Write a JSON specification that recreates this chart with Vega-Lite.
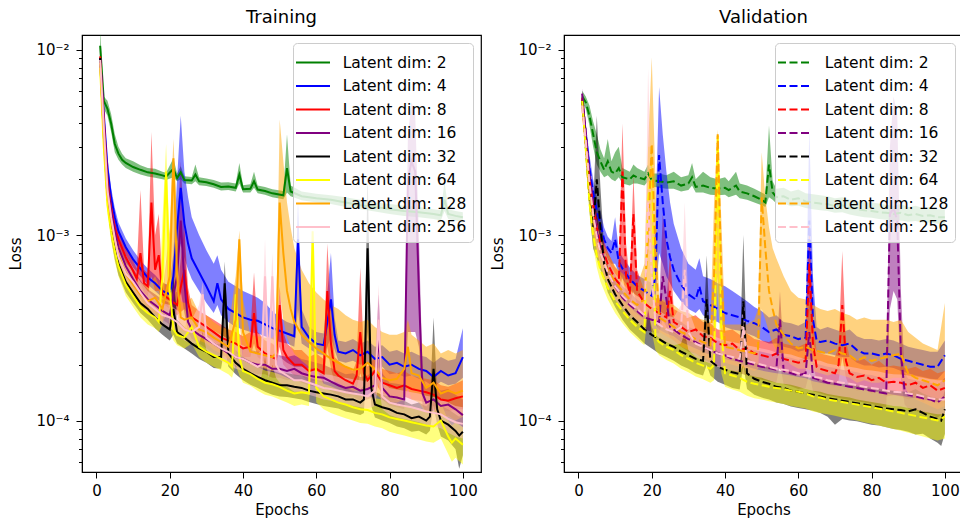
{
"$schema":"https://vega.github.io/schema/vega-lite/v6.json",
"background":"white",
"padding":{"left":8,"top":8,"right":0,"bottom":0},
"spacing":8,
"config":{
 "font":"DejaVu Sans",
 "view":{"stroke":"black","strokeWidth":1.2},
 "axis":{"labelFont":"DejaVu Sans","labelFontSize":15,"labelColor":"black","titleFont":"DejaVu Sans","titleFontSize":15,"titleFontWeight":"normal","titleColor":"black","tickColor":"black","domainColor":"black","grid":false,"labelOverlap":false,"labelBound":false,"labelFlush":false},
 "title":{"font":"DejaVu Sans","fontSize":18,"fontWeight":"normal","color":"black","offset":8},
 "legend":{"orient":"top-right","offset":8,"padding":6,"rowPadding":1.5,"symbolType":"M-1.32,0H1.4","symbolSize":625,"symbolStrokeWidth":2,"labelFont":"DejaVu Sans","labelFontSize":15.5,"labelColor":"black","labelOffset":16.7,"labelLimit":0,"fillColor":"rgba(255,255,255,0.8)","strokeColor":"#cccccc","cornerRadius":4}
},
"datasets":{
"train":[
{"d":2,"e":1,"y":1.05e-2,"l":9.0e-3,"h":1.3e-2},
{"d":2,"e":2,"y":5.3e-3,"l":4.8e-3,"h":5.6e-3},
{"d":2,"e":3,"y":4.8e-3,"l":4.4e-3,"h":5.3e-3},
{"d":2,"e":4,"y":4.0e-3,"l":3.6e-3,"h":4.5e-3},
{"d":2,"e":5,"y":3.1e-3,"l":2.8e-3,"h":3.5e-3},
{"d":2,"e":6,"y":2.75e-3,"l":2.55e-3,"h":3.0e-3},
{"d":2,"e":7,"y":2.55e-3,"l":2.4e-3,"h":2.75e-3},
{"d":2,"e":8,"y":2.45e-3,"l":2.3e-3,"h":2.6e-3},
{"d":2,"e":10,"y":2.33e-3,"l":2.2e-3,"h":2.5e-3},
{"d":2,"e":12,"y":2.25e-3,"l":2.12e-3,"h":2.38e-3},
{"d":2,"e":14,"y":2.18e-3,"l":2.07e-3,"h":2.3e-3},
{"d":2,"e":16,"y":2.15e-3,"l":2.04e-3,"h":2.28e-3},
{"d":2,"e":18,"y":2.1e-3,"l":2.0e-3,"h":2.2e-3},
{"d":2,"e":19,"y":2.07e-3,"l":1.98e-3,"h":2.17e-3},
{"d":2,"e":21,"y":2.28e-3,"l":2.05e-3,"h":2.6e-3},
{"d":2,"e":22,"y":2.03e-3,"l":1.95e-3,"h":2.15e-3},
{"d":2,"e":23,"y":2.18e-3,"l":2.0e-3,"h":2.35e-3},
{"d":2,"e":24,"y":1.98e-3,"l":1.9e-3,"h":2.08e-3},
{"d":2,"e":26,"y":1.97e-3,"l":1.88e-3,"h":2.06e-3},
{"d":2,"e":27,"y":2.12e-3,"l":1.95e-3,"h":2.4e-3},
{"d":2,"e":28,"y":1.95e-3,"l":1.86e-3,"h":2.05e-3},
{"d":2,"e":30,"y":1.93e-3,"l":1.84e-3,"h":2.02e-3},
{"d":2,"e":32,"y":1.88e-3,"l":1.8e-3,"h":1.98e-3},
{"d":2,"e":34,"y":1.82e-3,"l":1.74e-3,"h":1.92e-3},
{"d":2,"e":36,"y":1.83e-3,"l":1.75e-3,"h":1.93e-3},
{"d":2,"e":38,"y":1.8e-3,"l":1.72e-3,"h":1.9e-3},
{"d":2,"e":39,"y":2.12e-3,"l":1.9e-3,"h":2.45e-3},
{"d":2,"e":40,"y":1.77e-3,"l":1.7e-3,"h":1.86e-3},
{"d":2,"e":42,"y":1.78e-3,"l":1.7e-3,"h":1.88e-3},
{"d":2,"e":43,"y":1.95e-3,"l":1.8e-3,"h":2.2e-3},
{"d":2,"e":44,"y":1.76e-3,"l":1.68e-3,"h":1.85e-3},
{"d":2,"e":46,"y":1.73e-3,"l":1.65e-3,"h":1.82e-3},
{"d":2,"e":48,"y":1.68e-3,"l":1.6e-3,"h":1.77e-3},
{"d":2,"e":51,"y":1.64e-3,"l":1.56e-3,"h":1.73e-3},
{"d":2,"e":52,"y":2.3e-3,"l":1.7e-3,"h":3.5e-3},
{"d":2,"e":53,"y":1.72e-3,"l":1.62e-3,"h":1.85e-3},
{"d":2,"e":56,"y":1.62e-3,"l":1.54e-3,"h":1.72e-3},
{"d":2,"e":60,"y":1.58e-3,"l":1.5e-3,"h":1.67e-3},
{"d":2,"e":64,"y":1.55e-3,"l":1.47e-3,"h":1.64e-3},
{"d":2,"e":68,"y":1.5e-3,"l":1.42e-3,"h":1.6e-3},
{"d":2,"e":72,"y":1.45e-3,"l":1.38e-3,"h":1.55e-3},
{"d":2,"e":76,"y":1.42e-3,"l":1.34e-3,"h":1.5e-3},
{"d":2,"e":80,"y":1.38e-3,"l":1.3e-3,"h":1.47e-3},
{"d":2,"e":84,"y":1.35e-3,"l":1.27e-3,"h":1.44e-3},
{"d":2,"e":88,"y":1.33e-3,"l":1.25e-3,"h":1.42e-3},
{"d":2,"e":92,"y":1.3e-3,"l":1.22e-3,"h":1.38e-3},
{"d":2,"e":94,"y":1.28e-3,"l":1.2e-3,"h":1.36e-3},
{"d":2,"e":95,"y":1.55e-3,"l":1.35e-3,"h":1.95e-3},
{"d":2,"e":96,"y":1.3e-3,"l":1.22e-3,"h":1.38e-3},
{"d":2,"e":98,"y":1.27e-3,"l":1.2e-3,"h":1.35e-3},
{"d":2,"e":100,"y":1.25e-3,"l":1.18e-3,"h":1.33e-3},
{"d":4,"e":1,"y":9.0e-3,"l":8.5e-3,"h":9.5e-3},
{"d":4,"e":2,"y":4.5e-3,"l":4.0e-3,"h":5.0e-3},
{"d":4,"e":3,"y":2.3e-3,"l":2.1e-3,"h":2.6e-3},
{"d":4,"e":4,"y":1.6e-3,"l":1.45e-3,"h":1.8e-3},
{"d":4,"e":5,"y":1.25e-3,"l":1.12e-3,"h":1.4e-3},
{"d":4,"e":6,"y":1.05e-3,"l":9.5e-4,"h":1.17e-3},
{"d":4,"e":8,"y":8.6e-4,"l":7.8e-4,"h":9.6e-4},
{"d":4,"e":10,"y":7.4e-4,"l":6.7e-4,"h":8.3e-4},
{"d":4,"e":12,"y":6.6e-4,"l":6.0e-4,"h":7.3e-4},
{"d":4,"e":14,"y":5.9e-4,"l":5.4e-4,"h":6.6e-4},
{"d":4,"e":16,"y":5.5e-4,"l":5.0e-4,"h":6.1e-4},
{"d":4,"e":18,"y":5.0e-4,"l":4.6e-4,"h":5.5e-4},
{"d":4,"e":20,"y":4.8e-4,"l":4.4e-4,"h":5.4e-4},
{"d":4,"e":21,"y":6.0e-4,"l":5.0e-4,"h":8.0e-4},
{"d":4,"e":22,"y":1.1e-3,"l":7.0e-4,"h":2.0e-3},
{"d":4,"e":23,"y":1.8e-3,"l":9.0e-4,"h":4.4e-3},
{"d":4,"e":24,"y":1.15e-3,"l":7.5e-4,"h":2.2e-3},
{"d":4,"e":25,"y":9.0e-4,"l":6.5e-4,"h":1.6e-3},
{"d":4,"e":26,"y":7.5e-4,"l":5.8e-4,"h":1.25e-3},
{"d":4,"e":28,"y":6.3e-4,"l":5.0e-4,"h":1.0e-3},
{"d":4,"e":30,"y":5.3e-4,"l":4.3e-4,"h":8.3e-4},
{"d":4,"e":32,"y":4.4e-4,"l":3.8e-4,"h":7.0e-4},
{"d":4,"e":33,"y":5.5e-4,"l":4.2e-4,"h":7.8e-4},
{"d":4,"e":34,"y":4.5e-4,"l":3.7e-4,"h":6.5e-4},
{"d":4,"e":36,"y":4.0e-4,"l":3.4e-4,"h":5.6e-4},
{"d":4,"e":38,"y":3.8e-4,"l":3.2e-4,"h":5.3e-4},
{"d":4,"e":40,"y":3.6e-4,"l":3.1e-4,"h":5.0e-4},
{"d":4,"e":42,"y":3.5e-4,"l":3.0e-4,"h":4.8e-4},
{"d":4,"e":44,"y":3.45e-4,"l":2.95e-4,"h":4.6e-4},
{"d":4,"e":46,"y":3.3e-4,"l":2.85e-4,"h":4.3e-4},
{"d":4,"e":48,"y":3.15e-4,"l":2.75e-4,"h":3.9e-4},
{"d":4,"e":50,"y":3.05e-4,"l":2.65e-4,"h":3.6e-4},
{"d":4,"e":52,"y":2.95e-4,"l":2.6e-4,"h":3.4e-4},
{"d":4,"e":54,"y":2.85e-4,"l":2.5e-4,"h":3.3e-4},
{"d":4,"e":55,"y":9.5e-4,"l":4.0e-4,"h":1.55e-3},
{"d":4,"e":56,"y":3.2e-4,"l":2.6e-4,"h":4.0e-4},
{"d":4,"e":58,"y":2.8e-4,"l":2.45e-4,"h":3.2e-4},
{"d":4,"e":60,"y":2.6e-4,"l":2.3e-4,"h":3.0e-4},
{"d":4,"e":62,"y":2.55e-4,"l":2.25e-4,"h":2.95e-4},
{"d":4,"e":64,"y":4.5e-4,"l":2.8e-4,"h":8.0e-4},
{"d":4,"e":65,"y":2.9e-4,"l":2.4e-4,"h":3.6e-4},
{"d":4,"e":66,"y":2.35e-4,"l":2.1e-4,"h":2.7e-4},
{"d":4,"e":68,"y":2.3e-4,"l":2.05e-4,"h":2.65e-4},
{"d":4,"e":70,"y":2.4e-4,"l":2.1e-4,"h":2.75e-4},
{"d":4,"e":72,"y":2.25e-4,"l":2.0e-4,"h":2.6e-4},
{"d":4,"e":74,"y":2.35e-4,"l":2.05e-4,"h":2.7e-4},
{"d":4,"e":76,"y":2.15e-4,"l":1.9e-4,"h":2.5e-4},
{"d":4,"e":78,"y":2.2e-4,"l":1.95e-4,"h":2.55e-4},
{"d":4,"e":80,"y":2.0e-4,"l":1.78e-4,"h":2.35e-4},
{"d":4,"e":82,"y":2.05e-4,"l":1.8e-4,"h":2.4e-4},
{"d":4,"e":84,"y":1.95e-4,"l":1.72e-4,"h":2.3e-4},
{"d":4,"e":86,"y":2.0e-4,"l":1.75e-4,"h":2.35e-4},
{"d":4,"e":88,"y":1.9e-4,"l":1.68e-4,"h":2.25e-4},
{"d":4,"e":90,"y":1.85e-4,"l":1.62e-4,"h":2.2e-4},
{"d":4,"e":92,"y":1.72e-4,"l":1.52e-4,"h":2.05e-4},
{"d":4,"e":94,"y":1.85e-4,"l":1.62e-4,"h":2.2e-4},
{"d":4,"e":96,"y":1.75e-4,"l":1.55e-4,"h":2.1e-4},
{"d":4,"e":98,"y":1.8e-4,"l":1.58e-4,"h":2.15e-4},
{"d":4,"e":100,"y":2.2e-4,"l":1.7e-4,"h":3.15e-4},
{"d":8,"e":1,"y":9.2e-3,"l":8.7e-3,"h":9.7e-3},
{"d":8,"e":2,"y":4.2e-3,"l":3.8e-3,"h":4.7e-3},
{"d":8,"e":3,"y":2.0e-3,"l":1.8e-3,"h":2.3e-3},
{"d":8,"e":4,"y":1.4e-3,"l":1.25e-3,"h":1.6e-3},
{"d":8,"e":5,"y":1.1e-3,"l":9.8e-4,"h":1.25e-3},
{"d":8,"e":6,"y":9.5e-4,"l":8.5e-4,"h":1.07e-3},
{"d":8,"e":8,"y":7.6e-4,"l":6.8e-4,"h":8.6e-4},
{"d":8,"e":10,"y":6.4e-4,"l":5.7e-4,"h":7.3e-4},
{"d":8,"e":11,"y":5.8e-4,"l":5.2e-4,"h":6.6e-4},
{"d":8,"e":12,"y":8.0e-4,"l":5.5e-4,"h":1.75e-3},
{"d":8,"e":13,"y":5.5e-4,"l":4.9e-4,"h":6.5e-4},
{"d":8,"e":14,"y":5.3e-4,"l":4.7e-4,"h":6.2e-4},
{"d":8,"e":15,"y":1.5e-3,"l":6.0e-4,"h":3.6e-3},
{"d":8,"e":16,"y":6.5e-4,"l":5.0e-4,"h":1.0e-3},
{"d":8,"e":17,"y":7.8e-4,"l":5.0e-4,"h":1.3e-3},
{"d":8,"e":18,"y":4.8e-4,"l":4.3e-4,"h":5.6e-4},
{"d":8,"e":20,"y":4.5e-4,"l":4.0e-4,"h":5.2e-4},
{"d":8,"e":22,"y":4.2e-4,"l":3.7e-4,"h":4.9e-4},
{"d":8,"e":24,"y":6.5e-4,"l":4.0e-4,"h":1.1e-3},
{"d":8,"e":25,"y":4.3e-4,"l":3.7e-4,"h":5.2e-4},
{"d":8,"e":26,"y":3.6e-4,"l":3.2e-4,"h":4.2e-4},
{"d":8,"e":28,"y":3.4e-4,"l":3.0e-4,"h":3.9e-4},
{"d":8,"e":30,"y":3.2e-4,"l":2.85e-4,"h":3.7e-4},
{"d":8,"e":32,"y":3.0e-4,"l":2.7e-4,"h":3.5e-4},
{"d":8,"e":34,"y":2.8e-4,"l":2.5e-4,"h":3.3e-4},
{"d":8,"e":36,"y":2.7e-4,"l":2.4e-4,"h":3.1e-4},
{"d":8,"e":38,"y":2.6e-4,"l":2.3e-4,"h":3.0e-4},
{"d":8,"e":40,"y":2.45e-4,"l":2.2e-4,"h":2.85e-4},
{"d":8,"e":42,"y":2.5e-4,"l":2.2e-4,"h":3.0e-4},
{"d":8,"e":43,"y":3.8e-4,"l":2.6e-4,"h":6.3e-4},
{"d":8,"e":44,"y":2.5e-4,"l":2.2e-4,"h":3.0e-4},
{"d":8,"e":46,"y":2.3e-4,"l":2.05e-4,"h":2.7e-4},
{"d":8,"e":48,"y":2.2e-4,"l":1.95e-4,"h":2.6e-4},
{"d":8,"e":49,"y":2.15e-4,"l":1.9e-4,"h":2.5e-4},
{"d":8,"e":50,"y":4.2e-4,"l":2.5e-4,"h":5.3e-4},
{"d":8,"e":51,"y":2.4e-4,"l":2.0e-4,"h":3.0e-4},
{"d":8,"e":52,"y":2.2e-4,"l":1.9e-4,"h":2.6e-4},
{"d":8,"e":54,"y":2.0e-4,"l":1.75e-4,"h":2.4e-4},
{"d":8,"e":56,"y":2.0e-4,"l":1.75e-4,"h":2.4e-4},
{"d":8,"e":58,"y":1.85e-4,"l":1.6e-4,"h":2.2e-4},
{"d":8,"e":60,"y":1.9e-4,"l":1.65e-4,"h":2.3e-4},
{"d":8,"e":62,"y":1.8e-4,"l":1.58e-4,"h":2.15e-4},
{"d":8,"e":63,"y":5.0e-4,"l":2.5e-4,"h":9.0e-4},
{"d":8,"e":64,"y":2.6e-4,"l":1.9e-4,"h":4.0e-4},
{"d":8,"e":65,"y":1.85e-4,"l":1.6e-4,"h":2.2e-4},
{"d":8,"e":66,"y":1.75e-4,"l":1.52e-4,"h":2.1e-4},
{"d":8,"e":68,"y":1.65e-4,"l":1.45e-4,"h":1.95e-4},
{"d":8,"e":70,"y":1.58e-4,"l":1.4e-4,"h":1.85e-4},
{"d":8,"e":71,"y":1.75e-4,"l":1.5e-4,"h":2.1e-4},
{"d":8,"e":72,"y":3.0e-4,"l":1.8e-4,"h":6.7e-4},
{"d":8,"e":73,"y":1.8e-4,"l":1.55e-4,"h":2.2e-4},
{"d":8,"e":74,"y":1.65e-4,"l":1.45e-4,"h":1.95e-4},
{"d":8,"e":76,"y":1.85e-4,"l":1.6e-4,"h":2.2e-4},
{"d":8,"e":78,"y":1.6e-4,"l":1.4e-4,"h":1.9e-4},
{"d":8,"e":80,"y":1.55e-4,"l":1.36e-4,"h":1.85e-4},
{"d":8,"e":82,"y":1.5e-4,"l":1.32e-4,"h":1.8e-4},
{"d":8,"e":84,"y":1.55e-4,"l":1.35e-4,"h":1.85e-4},
{"d":8,"e":86,"y":1.48e-4,"l":1.3e-4,"h":1.75e-4},
{"d":8,"e":88,"y":1.45e-4,"l":1.28e-4,"h":1.7e-4},
{"d":8,"e":90,"y":1.42e-4,"l":1.25e-4,"h":1.68e-4},
{"d":8,"e":92,"y":1.38e-4,"l":1.2e-4,"h":1.65e-4},
{"d":8,"e":94,"y":1.3e-4,"l":1.15e-4,"h":1.55e-4},
{"d":8,"e":96,"y":1.28e-4,"l":1.12e-4,"h":1.52e-4},
{"d":8,"e":98,"y":1.32e-4,"l":1.15e-4,"h":1.58e-4},
{"d":8,"e":100,"y":1.35e-4,"l":1.15e-4,"h":1.65e-4},
{"d":16,"e":1,"y":9.0e-3,"l":8.5e-3,"h":9.5e-3},
{"d":16,"e":2,"y":4.0e-3,"l":3.6e-3,"h":4.4e-3},
{"d":16,"e":3,"y":1.9e-3,"l":1.7e-3,"h":2.2e-3},
{"d":16,"e":4,"y":1.35e-3,"l":1.2e-3,"h":1.55e-3},
{"d":16,"e":5,"y":1.05e-3,"l":9.3e-4,"h":1.2e-3},
{"d":16,"e":6,"y":8.6e-4,"l":7.7e-4,"h":9.7e-4},
{"d":16,"e":8,"y":6.8e-4,"l":6.1e-4,"h":7.7e-4},
{"d":16,"e":10,"y":5.8e-4,"l":5.2e-4,"h":6.6e-4},
{"d":16,"e":12,"y":5.0e-4,"l":4.5e-4,"h":5.7e-4},
{"d":16,"e":14,"y":4.5e-4,"l":4.0e-4,"h":5.1e-4},
{"d":16,"e":16,"y":4.2e-4,"l":3.7e-4,"h":4.8e-4},
{"d":16,"e":18,"y":3.9e-4,"l":3.5e-4,"h":4.5e-4},
{"d":16,"e":20,"y":3.7e-4,"l":3.3e-4,"h":4.3e-4},
{"d":16,"e":22,"y":6.0e-4,"l":4.0e-4,"h":1.0e-3},
{"d":16,"e":23,"y":1.2e-3,"l":5.0e-4,"h":2.5e-3},
{"d":16,"e":24,"y":5.5e-4,"l":3.8e-4,"h":1.0e-3},
{"d":16,"e":25,"y":3.4e-4,"l":3.0e-4,"h":4.0e-4},
{"d":16,"e":26,"y":3.1e-4,"l":2.75e-4,"h":3.6e-4},
{"d":16,"e":28,"y":2.9e-4,"l":2.6e-4,"h":3.4e-4},
{"d":16,"e":30,"y":2.75e-4,"l":2.45e-4,"h":3.2e-4},
{"d":16,"e":32,"y":2.6e-4,"l":2.3e-4,"h":3.0e-4},
{"d":16,"e":34,"y":2.45e-4,"l":2.2e-4,"h":2.85e-4},
{"d":16,"e":36,"y":2.3e-4,"l":2.05e-4,"h":2.7e-4},
{"d":16,"e":38,"y":2.2e-4,"l":1.95e-4,"h":2.55e-4},
{"d":16,"e":40,"y":2.15e-4,"l":1.9e-4,"h":2.5e-4},
{"d":16,"e":42,"y":2.05e-4,"l":1.82e-4,"h":2.4e-4},
{"d":16,"e":44,"y":2.0e-4,"l":1.78e-4,"h":2.35e-4},
{"d":16,"e":46,"y":2.0e-4,"l":1.78e-4,"h":2.35e-4},
{"d":16,"e":48,"y":1.9e-4,"l":1.7e-4,"h":2.25e-4},
{"d":16,"e":50,"y":1.9e-4,"l":1.7e-4,"h":2.25e-4},
{"d":16,"e":52,"y":1.85e-4,"l":1.65e-4,"h":2.2e-4},
{"d":16,"e":54,"y":1.9e-4,"l":1.68e-4,"h":2.25e-4},
{"d":16,"e":56,"y":1.8e-4,"l":1.6e-4,"h":2.15e-4},
{"d":16,"e":58,"y":1.75e-4,"l":1.55e-4,"h":2.1e-4},
{"d":16,"e":60,"y":1.72e-4,"l":1.52e-4,"h":2.05e-4},
{"d":16,"e":62,"y":1.7e-4,"l":1.5e-4,"h":2.0e-4},
{"d":16,"e":64,"y":1.62e-4,"l":1.44e-4,"h":1.92e-4},
{"d":16,"e":66,"y":1.55e-4,"l":1.38e-4,"h":1.85e-4},
{"d":16,"e":68,"y":1.5e-4,"l":1.33e-4,"h":1.78e-4},
{"d":16,"e":70,"y":1.52e-4,"l":1.35e-4,"h":1.8e-4},
{"d":16,"e":72,"y":1.45e-4,"l":1.28e-4,"h":1.72e-4},
{"d":16,"e":74,"y":1.48e-4,"l":1.3e-4,"h":1.75e-4},
{"d":16,"e":76,"y":1.55e-4,"l":1.35e-4,"h":1.9e-4},
{"d":16,"e":77,"y":2.8e-4,"l":1.6e-4,"h":4.8e-4},
{"d":16,"e":78,"y":1.5e-4,"l":1.3e-4,"h":1.8e-4},
{"d":16,"e":80,"y":1.35e-4,"l":1.2e-4,"h":1.6e-4},
{"d":16,"e":82,"y":1.33e-4,"l":1.18e-4,"h":1.58e-4},
{"d":16,"e":84,"y":1.3e-4,"l":1.15e-4,"h":1.55e-4},
{"d":16,"e":85,"y":2.0e-3,"l":3.0e-4,"h":3.5e-3},
{"d":16,"e":86,"y":2.5e-3,"l":3.0e-4,"h":5.2e-3},
{"d":16,"e":87,"y":2.2e-3,"l":3.0e-4,"h":4.5e-3},
{"d":16,"e":88,"y":5.0e-4,"l":2.5e-4,"h":1.0e-3},
{"d":16,"e":89,"y":1.4e-4,"l":1.2e-4,"h":1.8e-4},
{"d":16,"e":90,"y":1.25e-4,"l":1.1e-4,"h":1.5e-4},
{"d":16,"e":92,"y":1.3e-4,"l":1.12e-4,"h":1.55e-4},
{"d":16,"e":94,"y":1.2e-4,"l":1.05e-4,"h":1.45e-4},
{"d":16,"e":96,"y":1.22e-4,"l":1.06e-4,"h":1.48e-4},
{"d":16,"e":98,"y":1.15e-4,"l":1.0e-4,"h":1.38e-4},
{"d":16,"e":100,"y":1.07e-4,"l":9.2e-5,"h":1.3e-4},
{"d":32,"e":1,"y":9.0e-3,"l":8.3e-3,"h":9.6e-3},
{"d":32,"e":2,"y":3.4e-3,"l":3.0e-3,"h":3.8e-3},
{"d":32,"e":3,"y":1.6e-3,"l":1.4e-3,"h":1.8e-3},
{"d":32,"e":4,"y":1.1e-3,"l":9.6e-4,"h":1.25e-3},
{"d":32,"e":5,"y":8.5e-4,"l":7.4e-4,"h":9.7e-4},
{"d":32,"e":6,"y":7.0e-4,"l":6.1e-4,"h":8.0e-4},
{"d":32,"e":8,"y":5.6e-4,"l":4.9e-4,"h":6.4e-4},
{"d":32,"e":10,"y":4.9e-4,"l":4.3e-4,"h":5.6e-4},
{"d":32,"e":12,"y":4.3e-4,"l":3.8e-4,"h":4.9e-4},
{"d":32,"e":14,"y":4.0e-4,"l":3.5e-4,"h":4.6e-4},
{"d":32,"e":16,"y":3.6e-4,"l":3.15e-4,"h":4.1e-4},
{"d":32,"e":18,"y":3.3e-4,"l":2.9e-4,"h":3.8e-4},
{"d":32,"e":20,"y":3.1e-4,"l":2.7e-4,"h":3.6e-4},
{"d":32,"e":21,"y":4.0e-4,"l":2.9e-4,"h":6.5e-4},
{"d":32,"e":22,"y":3.0e-4,"l":2.6e-4,"h":3.5e-4},
{"d":32,"e":24,"y":2.8e-4,"l":2.45e-4,"h":3.2e-4},
{"d":32,"e":26,"y":2.6e-4,"l":2.3e-4,"h":3.0e-4},
{"d":32,"e":28,"y":2.45e-4,"l":2.15e-4,"h":2.85e-4},
{"d":32,"e":30,"y":2.35e-4,"l":2.05e-4,"h":2.7e-4},
{"d":32,"e":32,"y":2.2e-4,"l":1.92e-4,"h":2.55e-4},
{"d":32,"e":34,"y":2.2e-4,"l":1.9e-4,"h":2.6e-4},
{"d":32,"e":35,"y":5.5e-4,"l":2.5e-4,"h":7.2e-4},
{"d":32,"e":36,"y":2.3e-4,"l":1.95e-4,"h":2.9e-4},
{"d":32,"e":38,"y":2.05e-4,"l":1.78e-4,"h":2.4e-4},
{"d":32,"e":40,"y":1.9e-4,"l":1.65e-4,"h":2.2e-4},
{"d":32,"e":42,"y":1.8e-4,"l":1.56e-4,"h":2.1e-4},
{"d":32,"e":44,"y":1.72e-4,"l":1.5e-4,"h":2.0e-4},
{"d":32,"e":46,"y":1.65e-4,"l":1.43e-4,"h":1.92e-4},
{"d":32,"e":48,"y":1.6e-4,"l":1.38e-4,"h":1.86e-4},
{"d":32,"e":50,"y":1.55e-4,"l":1.35e-4,"h":1.8e-4},
{"d":32,"e":52,"y":1.55e-4,"l":1.34e-4,"h":1.8e-4},
{"d":32,"e":54,"y":1.52e-4,"l":1.32e-4,"h":1.77e-4},
{"d":32,"e":56,"y":1.5e-4,"l":1.3e-4,"h":1.75e-4},
{"d":32,"e":58,"y":1.45e-4,"l":1.26e-4,"h":1.7e-4},
{"d":32,"e":60,"y":1.42e-4,"l":1.23e-4,"h":1.66e-4},
{"d":32,"e":62,"y":1.4e-4,"l":1.2e-4,"h":1.63e-4},
{"d":32,"e":64,"y":1.38e-4,"l":1.18e-4,"h":1.6e-4},
{"d":32,"e":66,"y":1.35e-4,"l":1.16e-4,"h":1.57e-4},
{"d":32,"e":68,"y":1.3e-4,"l":1.12e-4,"h":1.52e-4},
{"d":32,"e":70,"y":1.3e-4,"l":1.1e-4,"h":1.52e-4},
{"d":32,"e":72,"y":1.25e-4,"l":1.07e-4,"h":1.47e-4},
{"d":32,"e":73,"y":1.3e-4,"l":1.1e-4,"h":1.55e-4},
{"d":32,"e":74,"y":8.5e-4,"l":3.0e-4,"h":2.2e-3},
{"d":32,"e":75,"y":1.5e-4,"l":1.2e-4,"h":2.0e-4},
{"d":32,"e":76,"y":1.22e-4,"l":1.04e-4,"h":1.43e-4},
{"d":32,"e":78,"y":1.18e-4,"l":1.0e-4,"h":1.38e-4},
{"d":32,"e":80,"y":1.15e-4,"l":9.7e-5,"h":1.35e-4},
{"d":32,"e":82,"y":1.1e-4,"l":9.3e-5,"h":1.3e-4},
{"d":32,"e":84,"y":1.08e-4,"l":9.1e-5,"h":1.28e-4},
{"d":32,"e":86,"y":1.03e-4,"l":8.7e-5,"h":1.22e-4},
{"d":32,"e":88,"y":1.05e-4,"l":8.8e-5,"h":1.25e-4},
{"d":32,"e":90,"y":1.0e-4,"l":8.4e-5,"h":1.19e-4},
{"d":32,"e":91,"y":1.05e-4,"l":8.8e-5,"h":1.25e-4},
{"d":32,"e":92,"y":1.9e-4,"l":1.2e-4,"h":3.6e-4},
{"d":32,"e":93,"y":1.15e-4,"l":9.5e-5,"h":1.4e-4},
{"d":32,"e":94,"y":1.0e-4,"l":8.2e-5,"h":1.2e-4},
{"d":32,"e":96,"y":9.5e-5,"l":7.8e-5,"h":1.15e-4},
{"d":32,"e":98,"y":8.8e-5,"l":7.0e-5,"h":1.08e-4},
{"d":32,"e":99,"y":8.3e-5,"l":5.5e-5,"h":1.05e-4},
{"d":32,"e":100,"y":8.7e-5,"l":6.5e-5,"h":1.1e-4},
{"d":64,"e":1,"y":8.0e-3,"l":7.5e-3,"h":8.6e-3},
{"d":64,"e":2,"y":3.0e-3,"l":2.6e-3,"h":3.4e-3},
{"d":64,"e":3,"y":1.45e-3,"l":1.3e-3,"h":1.65e-3},
{"d":64,"e":4,"y":1.05e-3,"l":9.3e-4,"h":1.18e-3},
{"d":64,"e":5,"y":8.2e-4,"l":7.2e-4,"h":9.3e-4},
{"d":64,"e":6,"y":6.8e-4,"l":6.0e-4,"h":7.7e-4},
{"d":64,"e":8,"y":5.4e-4,"l":4.7e-4,"h":6.1e-4},
{"d":64,"e":10,"y":4.7e-4,"l":4.1e-4,"h":5.3e-4},
{"d":64,"e":12,"y":4.1e-4,"l":3.6e-4,"h":4.7e-4},
{"d":64,"e":14,"y":3.8e-4,"l":3.3e-4,"h":4.3e-4},
{"d":64,"e":16,"y":3.6e-4,"l":3.15e-4,"h":4.1e-4},
{"d":64,"e":17,"y":3.4e-4,"l":3.0e-4,"h":3.9e-4},
{"d":64,"e":18,"y":6.0e-4,"l":3.3e-4,"h":1.2e-3},
{"d":64,"e":19,"y":2.2e-3,"l":8.0e-4,"h":3.1e-3},
{"d":64,"e":20,"y":5.0e-4,"l":3.2e-4,"h":9.0e-4},
{"d":64,"e":21,"y":3.1e-4,"l":2.7e-4,"h":3.6e-4},
{"d":64,"e":22,"y":2.9e-4,"l":2.55e-4,"h":3.35e-4},
{"d":64,"e":24,"y":2.8e-4,"l":2.45e-4,"h":3.2e-4},
{"d":64,"e":26,"y":3.2e-4,"l":2.6e-4,"h":3.8e-4},
{"d":64,"e":28,"y":2.5e-4,"l":2.2e-4,"h":2.9e-4},
{"d":64,"e":30,"y":2.35e-4,"l":2.05e-4,"h":2.7e-4},
{"d":64,"e":32,"y":2.25e-4,"l":1.95e-4,"h":2.6e-4},
{"d":64,"e":34,"y":2.15e-4,"l":1.87e-4,"h":2.5e-4},
{"d":64,"e":36,"y":2.05e-4,"l":1.78e-4,"h":2.38e-4},
{"d":64,"e":37,"y":1.95e-4,"l":1.7e-4,"h":2.25e-4},
{"d":64,"e":38,"y":4.8e-4,"l":2.0e-4,"h":5.5e-4},
{"d":64,"e":39,"y":2.2e-4,"l":1.75e-4,"h":3.0e-4},
{"d":64,"e":40,"y":1.85e-4,"l":1.6e-4,"h":2.15e-4},
{"d":64,"e":42,"y":1.78e-4,"l":1.54e-4,"h":2.05e-4},
{"d":64,"e":44,"y":1.68e-4,"l":1.45e-4,"h":1.95e-4},
{"d":64,"e":46,"y":1.6e-4,"l":1.38e-4,"h":1.86e-4},
{"d":64,"e":48,"y":1.57e-4,"l":1.35e-4,"h":1.83e-4},
{"d":64,"e":50,"y":1.52e-4,"l":1.3e-4,"h":1.77e-4},
{"d":64,"e":52,"y":1.45e-4,"l":1.25e-4,"h":1.7e-4},
{"d":64,"e":54,"y":1.4e-4,"l":1.2e-4,"h":1.63e-4},
{"d":64,"e":56,"y":1.42e-4,"l":1.22e-4,"h":1.65e-4},
{"d":64,"e":58,"y":1.4e-4,"l":1.2e-4,"h":1.63e-4},
{"d":64,"e":59,"y":1.05e-3,"l":3.0e-4,"h":1.1e-3},
{"d":64,"e":60,"y":1.5e-4,"l":1.25e-4,"h":1.9e-4},
{"d":64,"e":62,"y":1.35e-4,"l":1.15e-4,"h":1.58e-4},
{"d":64,"e":64,"y":1.3e-4,"l":1.1e-4,"h":1.53e-4},
{"d":64,"e":66,"y":1.25e-4,"l":1.06e-4,"h":1.47e-4},
{"d":64,"e":68,"y":1.22e-4,"l":1.03e-4,"h":1.44e-4},
{"d":64,"e":70,"y":1.18e-4,"l":1.0e-4,"h":1.4e-4},
{"d":64,"e":72,"y":1.15e-4,"l":9.7e-5,"h":1.37e-4},
{"d":64,"e":74,"y":1.14e-4,"l":9.6e-5,"h":1.36e-4},
{"d":64,"e":76,"y":1.1e-4,"l":9.3e-5,"h":1.32e-4},
{"d":64,"e":78,"y":1.08e-4,"l":9.1e-5,"h":1.3e-4},
{"d":64,"e":80,"y":1.04e-4,"l":8.7e-5,"h":1.25e-4},
{"d":64,"e":82,"y":1.02e-4,"l":8.5e-5,"h":1.23e-4},
{"d":64,"e":84,"y":1.0e-4,"l":8.3e-5,"h":1.2e-4},
{"d":64,"e":86,"y":9.8e-5,"l":8.1e-5,"h":1.18e-4},
{"d":64,"e":88,"y":9.6e-5,"l":7.9e-5,"h":1.16e-4},
{"d":64,"e":90,"y":9.4e-5,"l":7.7e-5,"h":1.14e-4},
{"d":64,"e":92,"y":9.3e-5,"l":7.6e-5,"h":1.13e-4},
{"d":64,"e":94,"y":1.0e-4,"l":8.0e-5,"h":1.25e-4},
{"d":64,"e":96,"y":8.2e-5,"l":6.6e-5,"h":1.0e-4},
{"d":64,"e":97,"y":7.6e-5,"l":6.0e-5,"h":9.4e-5},
{"d":64,"e":98,"y":8.0e-5,"l":6.3e-5,"h":9.8e-5},
{"d":64,"e":100,"y":7.4e-5,"l":5.8e-5,"h":9.2e-5},
{"d":128,"e":1,"y":8.5e-3,"l":8.0e-3,"h":9.0e-3},
{"d":128,"e":2,"y":3.6e-3,"l":3.2e-3,"h":4.0e-3},
{"d":128,"e":3,"y":1.7e-3,"l":1.5e-3,"h":1.95e-3},
{"d":128,"e":4,"y":1.2e-3,"l":1.05e-3,"h":1.4e-3},
{"d":128,"e":5,"y":9.4e-4,"l":8.2e-4,"h":1.08e-3},
{"d":128,"e":6,"y":7.8e-4,"l":6.8e-4,"h":9.0e-4},
{"d":128,"e":8,"y":6.2e-4,"l":5.4e-4,"h":7.2e-4},
{"d":128,"e":10,"y":5.4e-4,"l":4.7e-4,"h":6.3e-4},
{"d":128,"e":12,"y":4.8e-4,"l":4.2e-4,"h":5.6e-4},
{"d":128,"e":14,"y":4.4e-4,"l":3.8e-4,"h":5.2e-4},
{"d":128,"e":16,"y":4.6e-4,"l":3.8e-4,"h":6.0e-4},
{"d":128,"e":18,"y":4.0e-4,"l":3.4e-4,"h":4.8e-4},
{"d":128,"e":20,"y":6.0e-4,"l":4.0e-4,"h":1.1e-3},
{"d":128,"e":21,"y":2.6e-3,"l":6.0e-4,"h":3.3e-3},
{"d":128,"e":22,"y":6.0e-4,"l":3.8e-4,"h":1.2e-3},
{"d":128,"e":23,"y":3.6e-4,"l":3.1e-4,"h":4.4e-4},
{"d":128,"e":24,"y":3.5e-4,"l":3.0e-4,"h":4.3e-4},
{"d":128,"e":26,"y":3.6e-4,"l":3.0e-4,"h":4.6e-4},
{"d":128,"e":28,"y":3.1e-4,"l":2.7e-4,"h":3.8e-4},
{"d":128,"e":30,"y":3.0e-4,"l":2.6e-4,"h":3.7e-4},
{"d":128,"e":32,"y":2.8e-4,"l":2.4e-4,"h":3.4e-4},
{"d":128,"e":34,"y":2.65e-4,"l":2.3e-4,"h":3.2e-4},
{"d":128,"e":36,"y":2.5e-4,"l":2.15e-4,"h":3.1e-4},
{"d":128,"e":38,"y":3.5e-4,"l":2.3e-4,"h":6.0e-4},
{"d":128,"e":39,"y":9.5e-4,"l":3.5e-4,"h":1.06e-3},
{"d":128,"e":40,"y":3.0e-4,"l":2.2e-4,"h":4.5e-4},
{"d":128,"e":42,"y":2.35e-4,"l":2.0e-4,"h":2.9e-4},
{"d":128,"e":44,"y":2.3e-4,"l":1.95e-4,"h":2.85e-4},
{"d":128,"e":46,"y":2.25e-4,"l":1.9e-4,"h":2.8e-4},
{"d":128,"e":48,"y":2.2e-4,"l":1.85e-4,"h":2.8e-4},
{"d":128,"e":49,"y":2.3e-4,"l":1.9e-4,"h":3.0e-4},
{"d":128,"e":50,"y":1.5e-3,"l":5.0e-4,"h":4.2e-3},
{"d":128,"e":51,"y":8.0e-4,"l":3.5e-4,"h":2.5e-3},
{"d":128,"e":52,"y":5.0e-4,"l":2.8e-4,"h":1.5e-3},
{"d":128,"e":53,"y":4.0e-4,"l":2.5e-4,"h":1.1e-3},
{"d":128,"e":54,"y":3.4e-4,"l":2.3e-4,"h":8.5e-4},
{"d":128,"e":56,"y":2.9e-4,"l":2.1e-4,"h":6.5e-4},
{"d":128,"e":58,"y":2.65e-4,"l":1.95e-4,"h":5.5e-4},
{"d":128,"e":60,"y":2.45e-4,"l":1.85e-4,"h":4.9e-4},
{"d":128,"e":62,"y":2.3e-4,"l":1.75e-4,"h":4.5e-4},
{"d":128,"e":64,"y":2.15e-4,"l":1.65e-4,"h":4.2e-4},
{"d":128,"e":66,"y":2.05e-4,"l":1.6e-4,"h":4.0e-4},
{"d":128,"e":68,"y":1.95e-4,"l":1.5e-4,"h":3.7e-4},
{"d":128,"e":70,"y":1.88e-4,"l":1.45e-4,"h":3.5e-4},
{"d":128,"e":72,"y":1.9e-4,"l":1.45e-4,"h":3.4e-4},
{"d":128,"e":74,"y":2.05e-4,"l":1.5e-4,"h":3.5e-4},
{"d":128,"e":76,"y":1.9e-4,"l":1.4e-4,"h":3.2e-4},
{"d":128,"e":78,"y":1.7e-4,"l":1.3e-4,"h":3.0e-4},
{"d":128,"e":80,"y":1.65e-4,"l":1.25e-4,"h":2.9e-4},
{"d":128,"e":82,"y":1.68e-4,"l":1.25e-4,"h":2.9e-4},
{"d":128,"e":84,"y":1.9e-4,"l":1.3e-4,"h":3.0e-4},
{"d":128,"e":85,"y":2.5e-4,"l":1.5e-4,"h":3.5e-4},
{"d":128,"e":86,"y":1.8e-4,"l":1.3e-4,"h":2.9e-4},
{"d":128,"e":88,"y":1.75e-4,"l":1.25e-4,"h":2.7e-4},
{"d":128,"e":90,"y":1.5e-4,"l":1.1e-4,"h":2.5e-4},
{"d":128,"e":92,"y":1.6e-4,"l":1.15e-4,"h":2.6e-4},
{"d":128,"e":94,"y":1.4e-4,"l":1.05e-4,"h":2.3e-4},
{"d":128,"e":96,"y":1.45e-4,"l":1.05e-4,"h":2.4e-4},
{"d":128,"e":98,"y":1.4e-4,"l":1.0e-4,"h":2.3e-4},
{"d":128,"e":100,"y":1.45e-4,"l":1.05e-4,"h":2.4e-4},
{"d":256,"e":1,"y":8.8e-3,"l":8.3e-3,"h":9.3e-3},
{"d":256,"e":2,"y":3.8e-3,"l":3.4e-3,"h":4.2e-3},
{"d":256,"e":3,"y":1.75e-3,"l":1.55e-3,"h":2.0e-3},
{"d":256,"e":4,"y":1.25e-3,"l":1.1e-3,"h":1.42e-3},
{"d":256,"e":5,"y":9.6e-4,"l":8.5e-4,"h":1.1e-3},
{"d":256,"e":6,"y":7.6e-4,"l":6.7e-4,"h":8.7e-4},
{"d":256,"e":8,"y":6.2e-4,"l":5.5e-4,"h":7.1e-4},
{"d":256,"e":10,"y":5.6e-4,"l":4.9e-4,"h":6.4e-4},
{"d":256,"e":12,"y":4.9e-4,"l":4.3e-4,"h":5.6e-4},
{"d":256,"e":14,"y":4.3e-4,"l":3.8e-4,"h":5.0e-4},
{"d":256,"e":16,"y":4.0e-4,"l":3.5e-4,"h":4.6e-4},
{"d":256,"e":18,"y":3.7e-4,"l":3.25e-4,"h":4.3e-4},
{"d":256,"e":20,"y":3.6e-4,"l":3.15e-4,"h":4.2e-4},
{"d":256,"e":22,"y":3.4e-4,"l":3.0e-4,"h":3.95e-4},
{"d":256,"e":24,"y":3.1e-4,"l":2.7e-4,"h":3.6e-4},
{"d":256,"e":26,"y":3.0e-4,"l":2.6e-4,"h":3.5e-4},
{"d":256,"e":28,"y":3.2e-4,"l":2.6e-4,"h":4.2e-4},
{"d":256,"e":29,"y":4.8e-4,"l":3.0e-4,"h":5.6e-4},
{"d":256,"e":30,"y":2.8e-4,"l":2.4e-4,"h":3.3e-4},
{"d":256,"e":32,"y":2.6e-4,"l":2.25e-4,"h":3.05e-4},
{"d":256,"e":34,"y":2.45e-4,"l":2.1e-4,"h":2.9e-4},
{"d":256,"e":36,"y":2.35e-4,"l":2.0e-4,"h":2.75e-4},
{"d":256,"e":38,"y":2.2e-4,"l":1.9e-4,"h":2.6e-4},
{"d":256,"e":40,"y":2.15e-4,"l":1.85e-4,"h":2.55e-4},
{"d":256,"e":42,"y":2.05e-4,"l":1.78e-4,"h":2.4e-4},
{"d":256,"e":44,"y":1.95e-4,"l":1.7e-4,"h":2.3e-4},
{"d":256,"e":45,"y":2.0e-4,"l":1.72e-4,"h":2.4e-4},
{"d":256,"e":46,"y":6.0e-4,"l":2.2e-4,"h":9.5e-4},
{"d":256,"e":47,"y":2.0e-4,"l":1.7e-4,"h":2.4e-4},
{"d":256,"e":48,"y":6.0e-4,"l":2.0e-4,"h":8.0e-4},
{"d":256,"e":49,"y":2.0e-4,"l":1.7e-4,"h":2.4e-4},
{"d":256,"e":50,"y":1.85e-4,"l":1.6e-4,"h":2.2e-4},
{"d":256,"e":52,"y":1.75e-4,"l":1.52e-4,"h":2.05e-4},
{"d":256,"e":54,"y":1.65e-4,"l":1.43e-4,"h":1.95e-4},
{"d":256,"e":56,"y":1.65e-4,"l":1.43e-4,"h":1.95e-4},
{"d":256,"e":58,"y":1.6e-4,"l":1.38e-4,"h":1.9e-4},
{"d":256,"e":60,"y":1.55e-4,"l":1.34e-4,"h":1.85e-4},
{"d":256,"e":62,"y":1.5e-4,"l":1.3e-4,"h":1.78e-4},
{"d":256,"e":64,"y":1.48e-4,"l":1.28e-4,"h":1.76e-4},
{"d":256,"e":66,"y":1.45e-4,"l":1.25e-4,"h":1.72e-4},
{"d":256,"e":68,"y":1.42e-4,"l":1.23e-4,"h":1.7e-4},
{"d":256,"e":70,"y":1.4e-4,"l":1.2e-4,"h":1.67e-4},
{"d":256,"e":72,"y":1.38e-4,"l":1.18e-4,"h":1.65e-4},
{"d":256,"e":74,"y":1.35e-4,"l":1.16e-4,"h":1.62e-4},
{"d":256,"e":76,"y":1.45e-4,"l":1.2e-4,"h":1.8e-4},
{"d":256,"e":77,"y":3.5e-4,"l":1.6e-4,"h":5.4e-4},
{"d":256,"e":78,"y":1.35e-4,"l":1.15e-4,"h":1.62e-4},
{"d":256,"e":80,"y":1.25e-4,"l":1.07e-4,"h":1.5e-4},
{"d":256,"e":82,"y":1.22e-4,"l":1.04e-4,"h":1.47e-4},
{"d":256,"e":84,"y":1.2e-4,"l":1.02e-4,"h":1.45e-4},
{"d":256,"e":86,"y":1.18e-4,"l":1.0e-4,"h":1.42e-4},
{"d":256,"e":88,"y":1.15e-4,"l":9.8e-5,"h":1.4e-4},
{"d":256,"e":90,"y":1.12e-4,"l":9.5e-5,"h":1.36e-4},
{"d":256,"e":92,"y":1.1e-4,"l":9.3e-5,"h":1.34e-4},
{"d":256,"e":94,"y":1.08e-4,"l":9.1e-5,"h":1.32e-4},
{"d":256,"e":96,"y":1.02e-4,"l":8.6e-5,"h":1.25e-4},
{"d":256,"e":98,"y":9.8e-5,"l":8.2e-5,"h":1.2e-4},
{"d":256,"e":100,"y":9.6e-5,"l":8.0e-5,"h":1.18e-4}
],
"val":[
{"d":2,"e":1,"y":5.6e-3,"l":5.2e-3,"h":6.0e-3},
{"d":2,"e":2,"y":5.2e-3,"l":4.8e-3,"h":5.6e-3},
{"d":2,"e":3,"y":4.4e-3,"l":3.9e-3,"h":5.0e-3},
{"d":2,"e":4,"y":3.5e-3,"l":3.0e-3,"h":4.1e-3},
{"d":2,"e":5,"y":2.8e-3,"l":2.4e-3,"h":3.5e-3},
{"d":2,"e":6,"y":2.5e-3,"l":2.2e-3,"h":2.9e-3},
{"d":2,"e":7,"y":2.25e-3,"l":2.05e-3,"h":2.6e-3},
{"d":2,"e":8,"y":2.5e-3,"l":2.1e-3,"h":3.3e-3},
{"d":2,"e":9,"y":2.2e-3,"l":2.0e-3,"h":2.5e-3},
{"d":2,"e":10,"y":2.15e-3,"l":1.95e-3,"h":2.8e-3},
{"d":2,"e":11,"y":2.3e-3,"l":2.05e-3,"h":3.0e-3},
{"d":2,"e":12,"y":2.05e-3,"l":1.9e-3,"h":2.3e-3},
{"d":2,"e":14,"y":2.0e-3,"l":1.85e-3,"h":2.2e-3},
{"d":2,"e":15,"y":2.1e-3,"l":1.9e-3,"h":2.4e-3},
{"d":2,"e":16,"y":2.05e-3,"l":1.9e-3,"h":2.3e-3},
{"d":2,"e":18,"y":2.0e-3,"l":1.85e-3,"h":2.2e-3},
{"d":2,"e":19,"y":2.15e-3,"l":1.95e-3,"h":2.4e-3},
{"d":2,"e":20,"y":1.98e-3,"l":1.83e-3,"h":2.15e-3},
{"d":2,"e":22,"y":1.95e-3,"l":1.8e-3,"h":2.15e-3},
{"d":2,"e":24,"y":1.92e-3,"l":1.78e-3,"h":2.1e-3},
{"d":2,"e":26,"y":1.95e-3,"l":1.78e-3,"h":2.2e-3},
{"d":2,"e":28,"y":1.85e-3,"l":1.72e-3,"h":2.05e-3},
{"d":2,"e":30,"y":1.9e-3,"l":1.75e-3,"h":2.1e-3},
{"d":2,"e":31,"y":2.05e-3,"l":1.85e-3,"h":2.45e-3},
{"d":2,"e":32,"y":1.82e-3,"l":1.7e-3,"h":2.0e-3},
{"d":2,"e":34,"y":1.85e-3,"l":1.7e-3,"h":2.2e-3},
{"d":2,"e":36,"y":1.8e-3,"l":1.65e-3,"h":2.05e-3},
{"d":2,"e":38,"y":1.78e-3,"l":1.64e-3,"h":2.0e-3},
{"d":2,"e":40,"y":1.8e-3,"l":1.65e-3,"h":2.05e-3},
{"d":2,"e":41,"y":1.75e-3,"l":1.6e-3,"h":1.95e-3},
{"d":2,"e":43,"y":1.85e-3,"l":1.65e-3,"h":2.2e-3},
{"d":2,"e":44,"y":1.72e-3,"l":1.58e-3,"h":1.9e-3},
{"d":2,"e":46,"y":1.68e-3,"l":1.55e-3,"h":1.85e-3},
{"d":2,"e":48,"y":1.62e-3,"l":1.5e-3,"h":1.78e-3},
{"d":2,"e":50,"y":1.55e-3,"l":1.45e-3,"h":1.7e-3},
{"d":2,"e":51,"y":1.5e-3,"l":1.42e-3,"h":1.65e-3},
{"d":2,"e":52,"y":2.4e-3,"l":1.6e-3,"h":3.9e-3},
{"d":2,"e":53,"y":1.7e-3,"l":1.55e-3,"h":1.95e-3},
{"d":2,"e":54,"y":1.6e-3,"l":1.48e-3,"h":1.78e-3},
{"d":2,"e":56,"y":1.62e-3,"l":1.48e-3,"h":1.8e-3},
{"d":2,"e":58,"y":1.55e-3,"l":1.43e-3,"h":1.72e-3},
{"d":2,"e":60,"y":1.58e-3,"l":1.44e-3,"h":1.76e-3},
{"d":2,"e":62,"y":1.52e-3,"l":1.4e-3,"h":1.68e-3},
{"d":2,"e":64,"y":1.5e-3,"l":1.38e-3,"h":1.66e-3},
{"d":2,"e":66,"y":1.48e-3,"l":1.36e-3,"h":1.64e-3},
{"d":2,"e":68,"y":1.47e-3,"l":1.35e-3,"h":1.62e-3},
{"d":2,"e":70,"y":1.43e-3,"l":1.32e-3,"h":1.58e-3},
{"d":2,"e":72,"y":1.45e-3,"l":1.33e-3,"h":1.6e-3},
{"d":2,"e":74,"y":1.4e-3,"l":1.29e-3,"h":1.55e-3},
{"d":2,"e":76,"y":1.38e-3,"l":1.27e-3,"h":1.53e-3},
{"d":2,"e":78,"y":1.36e-3,"l":1.25e-3,"h":1.5e-3},
{"d":2,"e":80,"y":1.35e-3,"l":1.24e-3,"h":1.5e-3},
{"d":2,"e":82,"y":1.33e-3,"l":1.22e-3,"h":1.48e-3},
{"d":2,"e":84,"y":1.32e-3,"l":1.21e-3,"h":1.46e-3},
{"d":2,"e":86,"y":1.3e-3,"l":1.2e-3,"h":1.44e-3},
{"d":2,"e":88,"y":1.32e-3,"l":1.2e-3,"h":1.47e-3},
{"d":2,"e":90,"y":1.28e-3,"l":1.18e-3,"h":1.42e-3},
{"d":2,"e":92,"y":1.3e-3,"l":1.19e-3,"h":1.44e-3},
{"d":2,"e":94,"y":1.27e-3,"l":1.17e-3,"h":1.4e-3},
{"d":2,"e":96,"y":1.28e-3,"l":1.17e-3,"h":1.42e-3},
{"d":2,"e":98,"y":1.25e-3,"l":1.15e-3,"h":1.38e-3},
{"d":2,"e":100,"y":1.25e-3,"l":1.15e-3,"h":1.38e-3},
{"d":4,"e":1,"y":5.4e-3,"l":5.0e-3,"h":5.8e-3},
{"d":4,"e":2,"y":3.5e-3,"l":3.1e-3,"h":4.0e-3},
{"d":4,"e":3,"y":2.3e-3,"l":2.0e-3,"h":2.7e-3},
{"d":4,"e":4,"y":1.7e-3,"l":1.5e-3,"h":2.0e-3},
{"d":4,"e":5,"y":1.35e-3,"l":1.15e-3,"h":1.6e-3},
{"d":4,"e":6,"y":1.15e-3,"l":1.0e-3,"h":1.35e-3},
{"d":4,"e":7,"y":9.5e-4,"l":8.3e-4,"h":1.1e-3},
{"d":4,"e":8,"y":8.5e-4,"l":7.4e-4,"h":9.8e-4},
{"d":4,"e":9,"y":8.0e-4,"l":7.0e-4,"h":9.3e-4},
{"d":4,"e":10,"y":9.5e-4,"l":7.0e-4,"h":1.25e-3},
{"d":4,"e":11,"y":7.2e-4,"l":6.3e-4,"h":8.3e-4},
{"d":4,"e":12,"y":6.6e-4,"l":5.8e-4,"h":7.6e-4},
{"d":4,"e":14,"y":5.8e-4,"l":5.1e-4,"h":6.7e-4},
{"d":4,"e":16,"y":5.3e-4,"l":4.7e-4,"h":6.1e-4},
{"d":4,"e":18,"y":5.0e-4,"l":4.4e-4,"h":5.8e-4},
{"d":4,"e":20,"y":4.7e-4,"l":4.1e-4,"h":5.5e-4},
{"d":4,"e":21,"y":6.0e-4,"l":4.5e-4,"h":1.2e-3},
{"d":4,"e":22,"y":2.7e-3,"l":8.0e-4,"h":6.3e-3},
{"d":4,"e":23,"y":1.5e-3,"l":7.0e-4,"h":3.5e-3},
{"d":4,"e":24,"y":9.5e-4,"l":6.0e-4,"h":2.2e-3},
{"d":4,"e":25,"y":7.6e-4,"l":5.5e-4,"h":1.5e-3},
{"d":4,"e":26,"y":6.5e-4,"l":5.0e-4,"h":1.15e-3},
{"d":4,"e":28,"y":5.4e-4,"l":4.4e-4,"h":8.5e-4},
{"d":4,"e":30,"y":4.8e-4,"l":4.0e-4,"h":7.0e-4},
{"d":4,"e":32,"y":4.5e-4,"l":3.8e-4,"h":6.5e-4},
{"d":4,"e":33,"y":5.3e-4,"l":4.0e-4,"h":7.5e-4},
{"d":4,"e":34,"y":4.4e-4,"l":3.7e-4,"h":6.0e-4},
{"d":4,"e":36,"y":4.2e-4,"l":3.5e-4,"h":5.8e-4},
{"d":4,"e":38,"y":4.0e-4,"l":3.4e-4,"h":5.5e-4},
{"d":4,"e":40,"y":3.8e-4,"l":3.2e-4,"h":5.3e-4},
{"d":4,"e":42,"y":3.7e-4,"l":3.1e-4,"h":5.0e-4},
{"d":4,"e":44,"y":3.6e-4,"l":3.05e-4,"h":4.7e-4},
{"d":4,"e":46,"y":3.45e-4,"l":2.95e-4,"h":4.4e-4},
{"d":4,"e":48,"y":3.35e-4,"l":2.85e-4,"h":4.1e-4},
{"d":4,"e":50,"y":3.2e-4,"l":2.7e-4,"h":3.9e-4},
{"d":4,"e":52,"y":3.0e-4,"l":2.6e-4,"h":3.6e-4},
{"d":4,"e":54,"y":3.1e-4,"l":2.6e-4,"h":3.7e-4},
{"d":4,"e":56,"y":2.9e-4,"l":2.5e-4,"h":3.4e-4},
{"d":4,"e":58,"y":2.85e-4,"l":2.45e-4,"h":3.35e-4},
{"d":4,"e":60,"y":2.75e-4,"l":2.35e-4,"h":3.25e-4},
{"d":4,"e":62,"y":2.8e-4,"l":2.4e-4,"h":3.4e-4},
{"d":4,"e":63,"y":1.2e-3,"l":4.0e-4,"h":3.8e-3},
{"d":4,"e":64,"y":3.5e-4,"l":2.6e-4,"h":6.0e-4},
{"d":4,"e":65,"y":2.7e-4,"l":2.35e-4,"h":3.2e-4},
{"d":4,"e":66,"y":2.65e-4,"l":2.3e-4,"h":3.1e-4},
{"d":4,"e":68,"y":2.7e-4,"l":2.3e-4,"h":3.2e-4},
{"d":4,"e":70,"y":2.6e-4,"l":2.25e-4,"h":3.1e-4},
{"d":4,"e":72,"y":2.55e-4,"l":2.2e-4,"h":3.0e-4},
{"d":4,"e":74,"y":2.6e-4,"l":2.2e-4,"h":3.1e-4},
{"d":4,"e":76,"y":2.4e-4,"l":2.05e-4,"h":2.85e-4},
{"d":4,"e":78,"y":2.3e-4,"l":1.98e-4,"h":2.75e-4},
{"d":4,"e":80,"y":2.3e-4,"l":1.98e-4,"h":2.75e-4},
{"d":4,"e":82,"y":2.25e-4,"l":1.93e-4,"h":2.7e-4},
{"d":4,"e":84,"y":2.3e-4,"l":1.95e-4,"h":2.75e-4},
{"d":4,"e":86,"y":2.25e-4,"l":1.92e-4,"h":2.7e-4},
{"d":4,"e":88,"y":2.15e-4,"l":1.85e-4,"h":2.6e-4},
{"d":4,"e":90,"y":2.1e-4,"l":1.8e-4,"h":2.5e-4},
{"d":4,"e":92,"y":2.05e-4,"l":1.75e-4,"h":2.45e-4},
{"d":4,"e":94,"y":2.0e-4,"l":1.72e-4,"h":2.4e-4},
{"d":4,"e":96,"y":1.95e-4,"l":1.68e-4,"h":2.35e-4},
{"d":4,"e":98,"y":1.95e-4,"l":1.67e-4,"h":2.35e-4},
{"d":4,"e":100,"y":2.25e-4,"l":1.85e-4,"h":2.7e-4},
{"d":8,"e":1,"y":5.5e-3,"l":5.1e-3,"h":5.9e-3},
{"d":8,"e":2,"y":3.2e-3,"l":2.8e-3,"h":3.6e-3},
{"d":8,"e":3,"y":2.0e-3,"l":1.75e-3,"h":2.3e-3},
{"d":8,"e":4,"y":1.45e-3,"l":1.25e-3,"h":1.7e-3},
{"d":8,"e":5,"y":1.1e-3,"l":9.5e-4,"h":1.3e-3},
{"d":8,"e":6,"y":9.0e-4,"l":7.8e-4,"h":1.05e-3},
{"d":8,"e":8,"y":7.0e-4,"l":6.1e-4,"h":8.1e-4},
{"d":8,"e":10,"y":5.8e-4,"l":5.0e-4,"h":6.7e-4},
{"d":8,"e":11,"y":5.5e-4,"l":4.8e-4,"h":6.4e-4},
{"d":8,"e":12,"y":2.2e-3,"l":6.0e-4,"h":4.0e-3},
{"d":8,"e":13,"y":6.0e-4,"l":4.8e-4,"h":9.0e-4},
{"d":8,"e":14,"y":4.8e-4,"l":4.2e-4,"h":5.6e-4},
{"d":8,"e":15,"y":1.3e-3,"l":5.0e-4,"h":2.1e-3},
{"d":8,"e":16,"y":5.0e-4,"l":4.2e-4,"h":6.5e-4},
{"d":8,"e":18,"y":4.3e-4,"l":3.7e-4,"h":5.0e-4},
{"d":8,"e":20,"y":4.0e-4,"l":3.5e-4,"h":4.7e-4},
{"d":8,"e":22,"y":3.8e-4,"l":3.3e-4,"h":4.5e-4},
{"d":8,"e":24,"y":3.6e-4,"l":3.1e-4,"h":4.3e-4},
{"d":8,"e":25,"y":5.0e-4,"l":3.3e-4,"h":8.0e-4},
{"d":8,"e":26,"y":3.4e-4,"l":2.95e-4,"h":4.0e-4},
{"d":8,"e":28,"y":3.2e-4,"l":2.8e-4,"h":3.8e-4},
{"d":8,"e":30,"y":3.0e-4,"l":2.6e-4,"h":3.6e-4},
{"d":8,"e":32,"y":3.1e-4,"l":2.65e-4,"h":3.7e-4},
{"d":8,"e":34,"y":2.85e-4,"l":2.45e-4,"h":3.4e-4},
{"d":8,"e":36,"y":2.8e-4,"l":2.4e-4,"h":3.35e-4},
{"d":8,"e":38,"y":2.6e-4,"l":2.25e-4,"h":3.1e-4},
{"d":8,"e":40,"y":2.55e-4,"l":2.2e-4,"h":3.05e-4},
{"d":8,"e":42,"y":2.6e-4,"l":2.2e-4,"h":3.1e-4},
{"d":8,"e":44,"y":2.4e-4,"l":2.05e-4,"h":2.9e-4},
{"d":8,"e":46,"y":2.45e-4,"l":2.1e-4,"h":2.95e-4},
{"d":8,"e":48,"y":2.3e-4,"l":1.97e-4,"h":2.75e-4},
{"d":8,"e":50,"y":2.25e-4,"l":1.92e-4,"h":2.7e-4},
{"d":8,"e":52,"y":2.2e-4,"l":1.88e-4,"h":2.65e-4},
{"d":8,"e":54,"y":2.3e-4,"l":1.95e-4,"h":2.8e-4},
{"d":8,"e":56,"y":2.15e-4,"l":1.83e-4,"h":2.6e-4},
{"d":8,"e":58,"y":2.1e-4,"l":1.78e-4,"h":2.55e-4},
{"d":8,"e":60,"y":2.05e-4,"l":1.75e-4,"h":2.5e-4},
{"d":8,"e":62,"y":2.1e-4,"l":1.78e-4,"h":2.6e-4},
{"d":8,"e":63,"y":7.0e-4,"l":3.0e-4,"h":1.2e-3},
{"d":8,"e":64,"y":2.6e-4,"l":2.0e-4,"h":3.5e-4},
{"d":8,"e":65,"y":1.95e-4,"l":1.65e-4,"h":2.35e-4},
{"d":8,"e":66,"y":1.9e-4,"l":1.6e-4,"h":2.3e-4},
{"d":8,"e":68,"y":1.85e-4,"l":1.57e-4,"h":2.25e-4},
{"d":8,"e":70,"y":1.8e-4,"l":1.52e-4,"h":2.2e-4},
{"d":8,"e":71,"y":2.0e-4,"l":1.65e-4,"h":2.5e-4},
{"d":8,"e":72,"y":4.2e-4,"l":2.2e-4,"h":8.2e-4},
{"d":8,"e":73,"y":2.1e-4,"l":1.7e-4,"h":2.7e-4},
{"d":8,"e":74,"y":1.8e-4,"l":1.52e-4,"h":2.2e-4},
{"d":8,"e":76,"y":1.72e-4,"l":1.45e-4,"h":2.1e-4},
{"d":8,"e":78,"y":1.75e-4,"l":1.47e-4,"h":2.15e-4},
{"d":8,"e":80,"y":1.65e-4,"l":1.4e-4,"h":2.0e-4},
{"d":8,"e":82,"y":1.7e-4,"l":1.43e-4,"h":2.1e-4},
{"d":8,"e":84,"y":1.6e-4,"l":1.35e-4,"h":1.95e-4},
{"d":8,"e":86,"y":1.62e-4,"l":1.37e-4,"h":1.98e-4},
{"d":8,"e":88,"y":1.6e-4,"l":1.35e-4,"h":1.95e-4},
{"d":8,"e":90,"y":1.55e-4,"l":1.3e-4,"h":1.9e-4},
{"d":8,"e":92,"y":1.6e-4,"l":1.33e-4,"h":1.95e-4},
{"d":8,"e":94,"y":1.5e-4,"l":1.26e-4,"h":1.85e-4},
{"d":8,"e":96,"y":1.55e-4,"l":1.3e-4,"h":1.9e-4},
{"d":8,"e":98,"y":1.45e-4,"l":1.22e-4,"h":1.8e-4},
{"d":8,"e":100,"y":1.5e-4,"l":1.25e-4,"h":1.85e-4},
{"d":16,"e":1,"y":5.8e-3,"l":5.4e-3,"h":6.2e-3},
{"d":16,"e":2,"y":3.6e-3,"l":3.2e-3,"h":4.0e-3},
{"d":16,"e":3,"y":2.1e-3,"l":1.85e-3,"h":2.4e-3},
{"d":16,"e":4,"y":1.45e-3,"l":1.25e-3,"h":1.7e-3},
{"d":16,"e":5,"y":1.05e-3,"l":9.0e-4,"h":1.22e-3},
{"d":16,"e":6,"y":8.5e-4,"l":7.3e-4,"h":9.8e-4},
{"d":16,"e":8,"y":6.5e-4,"l":5.6e-4,"h":7.5e-4},
{"d":16,"e":10,"y":5.3e-4,"l":4.6e-4,"h":6.1e-4},
{"d":16,"e":12,"y":4.6e-4,"l":4.0e-4,"h":5.3e-4},
{"d":16,"e":14,"y":4.2e-4,"l":3.6e-4,"h":4.9e-4},
{"d":16,"e":16,"y":3.9e-4,"l":3.4e-4,"h":4.5e-4},
{"d":16,"e":18,"y":3.6e-4,"l":3.1e-4,"h":4.2e-4},
{"d":16,"e":20,"y":3.5e-4,"l":3.0e-4,"h":4.1e-4},
{"d":16,"e":22,"y":3.4e-4,"l":2.95e-4,"h":4.0e-4},
{"d":16,"e":23,"y":6.0e-4,"l":3.5e-4,"h":1.3e-3},
{"d":16,"e":24,"y":4.5e-4,"l":3.2e-4,"h":9.0e-4},
{"d":16,"e":25,"y":3.2e-4,"l":2.8e-4,"h":3.8e-4},
{"d":16,"e":26,"y":3.1e-4,"l":2.7e-4,"h":3.6e-4},
{"d":16,"e":28,"y":2.9e-4,"l":2.5e-4,"h":3.4e-4},
{"d":16,"e":30,"y":2.75e-4,"l":2.35e-4,"h":3.2e-4},
{"d":16,"e":32,"y":2.65e-4,"l":2.3e-4,"h":3.1e-4},
{"d":16,"e":34,"y":2.5e-4,"l":2.15e-4,"h":2.95e-4},
{"d":16,"e":36,"y":2.4e-4,"l":2.05e-4,"h":2.8e-4},
{"d":16,"e":38,"y":2.3e-4,"l":1.97e-4,"h":2.7e-4},
{"d":16,"e":40,"y":2.25e-4,"l":1.93e-4,"h":2.65e-4},
{"d":16,"e":42,"y":2.15e-4,"l":1.85e-4,"h":2.55e-4},
{"d":16,"e":44,"y":2.1e-4,"l":1.8e-4,"h":2.5e-4},
{"d":16,"e":46,"y":2.05e-4,"l":1.75e-4,"h":2.45e-4},
{"d":16,"e":48,"y":2.0e-4,"l":1.7e-4,"h":2.4e-4},
{"d":16,"e":50,"y":1.95e-4,"l":1.66e-4,"h":2.35e-4},
{"d":16,"e":52,"y":1.92e-4,"l":1.63e-4,"h":2.3e-4},
{"d":16,"e":54,"y":1.88e-4,"l":1.6e-4,"h":2.25e-4},
{"d":16,"e":55,"y":3.5e-4,"l":2.0e-4,"h":5.0e-4},
{"d":16,"e":56,"y":1.85e-4,"l":1.57e-4,"h":2.22e-4},
{"d":16,"e":58,"y":1.8e-4,"l":1.53e-4,"h":2.18e-4},
{"d":16,"e":60,"y":1.75e-4,"l":1.48e-4,"h":2.12e-4},
{"d":16,"e":62,"y":1.8e-4,"l":1.5e-4,"h":2.2e-4},
{"d":16,"e":63,"y":3.0e-4,"l":1.8e-4,"h":4.5e-4},
{"d":16,"e":64,"y":1.7e-4,"l":1.44e-4,"h":2.05e-4},
{"d":16,"e":66,"y":1.65e-4,"l":1.4e-4,"h":2.0e-4},
{"d":16,"e":68,"y":1.6e-4,"l":1.36e-4,"h":1.95e-4},
{"d":16,"e":70,"y":1.58e-4,"l":1.34e-4,"h":1.92e-4},
{"d":16,"e":72,"y":1.55e-4,"l":1.31e-4,"h":1.88e-4},
{"d":16,"e":74,"y":1.52e-4,"l":1.29e-4,"h":1.85e-4},
{"d":16,"e":76,"y":1.5e-4,"l":1.27e-4,"h":1.82e-4},
{"d":16,"e":78,"y":1.47e-4,"l":1.25e-4,"h":1.78e-4},
{"d":16,"e":80,"y":1.45e-4,"l":1.23e-4,"h":1.76e-4},
{"d":16,"e":82,"y":1.42e-4,"l":1.2e-4,"h":1.72e-4},
{"d":16,"e":84,"y":1.4e-4,"l":1.18e-4,"h":1.7e-4},
{"d":16,"e":85,"y":1.3e-3,"l":4.0e-4,"h":3.0e-3},
{"d":16,"e":86,"y":1.4e-3,"l":5.0e-4,"h":5.6e-3},
{"d":16,"e":87,"y":1.2e-3,"l":4.5e-4,"h":4.5e-3},
{"d":16,"e":88,"y":2.3e-4,"l":1.7e-4,"h":5.0e-4},
{"d":16,"e":89,"y":1.45e-4,"l":1.22e-4,"h":1.8e-4},
{"d":16,"e":90,"y":1.38e-4,"l":1.16e-4,"h":1.68e-4},
{"d":16,"e":92,"y":1.35e-4,"l":1.13e-4,"h":1.65e-4},
{"d":16,"e":94,"y":1.32e-4,"l":1.1e-4,"h":1.62e-4},
{"d":16,"e":96,"y":1.3e-4,"l":1.08e-4,"h":1.6e-4},
{"d":16,"e":98,"y":1.25e-4,"l":1.04e-4,"h":1.55e-4},
{"d":16,"e":100,"y":1.35e-4,"l":1.1e-4,"h":1.7e-4},
{"d":32,"e":1,"y":5.3e-3,"l":4.9e-3,"h":5.7e-3},
{"d":32,"e":2,"y":3.0e-3,"l":2.6e-3,"h":3.5e-3},
{"d":32,"e":3,"y":1.6e-3,"l":1.35e-3,"h":1.9e-3},
{"d":32,"e":4,"y":1.1e-3,"l":8.5e-4,"h":1.4e-3},
{"d":32,"e":5,"y":2.0e-3,"l":7.5e-4,"h":4.4e-3},
{"d":32,"e":6,"y":1.1e-3,"l":6.5e-4,"h":1.8e-3},
{"d":32,"e":7,"y":7.0e-4,"l":5.8e-4,"h":8.5e-4},
{"d":32,"e":8,"y":5.8e-4,"l":4.9e-4,"h":6.8e-4},
{"d":32,"e":10,"y":4.8e-4,"l":4.1e-4,"h":5.6e-4},
{"d":32,"e":12,"y":4.2e-4,"l":3.5e-4,"h":5.0e-4},
{"d":32,"e":14,"y":3.7e-4,"l":3.1e-4,"h":4.4e-4},
{"d":32,"e":16,"y":3.4e-4,"l":2.85e-4,"h":4.0e-4},
{"d":32,"e":18,"y":3.1e-4,"l":2.6e-4,"h":3.7e-4},
{"d":32,"e":20,"y":2.9e-4,"l":2.45e-4,"h":3.45e-4},
{"d":32,"e":22,"y":2.75e-4,"l":2.3e-4,"h":3.3e-4},
{"d":32,"e":24,"y":2.6e-4,"l":2.2e-4,"h":3.1e-4},
{"d":32,"e":26,"y":2.5e-4,"l":2.1e-4,"h":3.0e-4},
{"d":32,"e":28,"y":2.35e-4,"l":1.98e-4,"h":2.8e-4},
{"d":32,"e":30,"y":2.25e-4,"l":1.9e-4,"h":2.7e-4},
{"d":32,"e":32,"y":2.15e-4,"l":1.8e-4,"h":2.6e-4},
{"d":32,"e":34,"y":2.1e-4,"l":1.75e-4,"h":2.55e-4},
{"d":32,"e":35,"y":4.5e-4,"l":2.0e-4,"h":7.8e-4},
{"d":32,"e":36,"y":2.1e-4,"l":1.75e-4,"h":2.6e-4},
{"d":32,"e":38,"y":1.95e-4,"l":1.62e-4,"h":2.35e-4},
{"d":32,"e":40,"y":1.88e-4,"l":1.56e-4,"h":2.28e-4},
{"d":32,"e":42,"y":1.82e-4,"l":1.5e-4,"h":2.2e-4},
{"d":32,"e":44,"y":1.78e-4,"l":1.47e-4,"h":2.15e-4},
{"d":32,"e":45,"y":4.4e-4,"l":2.0e-4,"h":1.0e-3},
{"d":32,"e":46,"y":1.8e-4,"l":1.48e-4,"h":2.2e-4},
{"d":32,"e":48,"y":1.68e-4,"l":1.38e-4,"h":2.05e-4},
{"d":32,"e":50,"y":1.62e-4,"l":1.33e-4,"h":1.98e-4},
{"d":32,"e":52,"y":1.58e-4,"l":1.3e-4,"h":1.93e-4},
{"d":32,"e":54,"y":1.52e-4,"l":1.25e-4,"h":1.87e-4},
{"d":32,"e":56,"y":1.5e-4,"l":1.23e-4,"h":1.84e-4},
{"d":32,"e":58,"y":1.45e-4,"l":1.19e-4,"h":1.78e-4},
{"d":32,"e":60,"y":1.43e-4,"l":1.17e-4,"h":1.75e-4},
{"d":32,"e":62,"y":1.4e-4,"l":1.15e-4,"h":1.72e-4},
{"d":32,"e":64,"y":1.38e-4,"l":1.13e-4,"h":1.7e-4},
{"d":32,"e":66,"y":1.35e-4,"l":1.1e-4,"h":1.66e-4},
{"d":32,"e":68,"y":1.32e-4,"l":1.05e-4,"h":1.62e-4},
{"d":32,"e":70,"y":1.3e-4,"l":9.5e-5,"h":1.6e-4},
{"d":32,"e":72,"y":1.28e-4,"l":1.02e-4,"h":1.58e-4},
{"d":32,"e":74,"y":1.26e-4,"l":1.0e-4,"h":1.56e-4},
{"d":32,"e":76,"y":1.24e-4,"l":9.9e-5,"h":1.54e-4},
{"d":32,"e":78,"y":1.22e-4,"l":9.7e-5,"h":1.52e-4},
{"d":32,"e":80,"y":1.2e-4,"l":9.5e-5,"h":1.5e-4},
{"d":32,"e":82,"y":1.18e-4,"l":9.4e-5,"h":1.48e-4},
{"d":32,"e":84,"y":1.16e-4,"l":9.2e-5,"h":1.46e-4},
{"d":32,"e":86,"y":1.15e-4,"l":9.0e-5,"h":1.45e-4},
{"d":32,"e":88,"y":1.14e-4,"l":8.9e-5,"h":1.44e-4},
{"d":32,"e":90,"y":1.12e-4,"l":8.7e-5,"h":1.42e-4},
{"d":32,"e":92,"y":1.15e-4,"l":8.4e-5,"h":1.48e-4},
{"d":32,"e":94,"y":1.1e-4,"l":8.5e-5,"h":1.4e-4},
{"d":32,"e":96,"y":1.05e-4,"l":8.0e-5,"h":1.35e-4},
{"d":32,"e":98,"y":1.02e-4,"l":7.6e-5,"h":1.32e-4},
{"d":32,"e":99,"y":1.0e-4,"l":7.3e-5,"h":1.3e-4},
{"d":32,"e":100,"y":1.15e-4,"l":8.5e-5,"h":1.45e-4},
{"d":64,"e":1,"y":5.3e-3,"l":4.9e-3,"h":5.7e-3},
{"d":64,"e":2,"y":2.9e-3,"l":2.5e-3,"h":3.3e-3},
{"d":64,"e":3,"y":1.5e-3,"l":1.3e-3,"h":1.75e-3},
{"d":64,"e":4,"y":1.0e-3,"l":8.7e-4,"h":1.17e-3},
{"d":64,"e":5,"y":7.8e-4,"l":6.7e-4,"h":9.1e-4},
{"d":64,"e":6,"y":6.5e-4,"l":5.6e-4,"h":7.6e-4},
{"d":64,"e":8,"y":5.2e-4,"l":4.5e-4,"h":6.1e-4},
{"d":64,"e":10,"y":4.4e-4,"l":3.8e-4,"h":5.1e-4},
{"d":64,"e":12,"y":3.9e-4,"l":3.35e-4,"h":4.5e-4},
{"d":64,"e":14,"y":3.5e-4,"l":3.0e-4,"h":4.1e-4},
{"d":64,"e":16,"y":3.2e-4,"l":2.75e-4,"h":3.75e-4},
{"d":64,"e":18,"y":3.0e-4,"l":2.55e-4,"h":3.5e-4},
{"d":64,"e":19,"y":1.5e-3,"l":4.0e-4,"h":3.0e-3},
{"d":64,"e":20,"y":2.5e-3,"l":3.0e-4,"h":3.0e-3},
{"d":64,"e":21,"y":2.8e-4,"l":2.4e-4,"h":3.3e-4},
{"d":64,"e":22,"y":2.65e-4,"l":2.25e-4,"h":3.1e-4},
{"d":64,"e":24,"y":2.5e-4,"l":2.12e-4,"h":2.95e-4},
{"d":64,"e":26,"y":2.4e-4,"l":2.03e-4,"h":2.85e-4},
{"d":64,"e":28,"y":2.25e-4,"l":1.9e-4,"h":2.65e-4},
{"d":64,"e":30,"y":2.15e-4,"l":1.82e-4,"h":2.55e-4},
{"d":64,"e":32,"y":2.05e-4,"l":1.73e-4,"h":2.45e-4},
{"d":64,"e":34,"y":1.98e-4,"l":1.67e-4,"h":2.35e-4},
{"d":64,"e":36,"y":1.9e-4,"l":1.6e-4,"h":2.25e-4},
{"d":64,"e":37,"y":2.0e-4,"l":1.65e-4,"h":2.4e-4},
{"d":64,"e":38,"y":3.5e-3,"l":5.0e-4,"h":3.7e-3},
{"d":64,"e":39,"y":3.0e-4,"l":1.8e-4,"h":6.0e-4},
{"d":64,"e":40,"y":1.8e-4,"l":1.52e-4,"h":2.15e-4},
{"d":64,"e":42,"y":1.75e-4,"l":1.47e-4,"h":2.1e-4},
{"d":64,"e":44,"y":1.7e-4,"l":1.43e-4,"h":2.05e-4},
{"d":64,"e":46,"y":1.62e-4,"l":1.36e-4,"h":1.95e-4},
{"d":64,"e":48,"y":1.58e-4,"l":1.32e-4,"h":1.9e-4},
{"d":64,"e":50,"y":1.55e-4,"l":1.3e-4,"h":1.86e-4},
{"d":64,"e":52,"y":1.52e-4,"l":1.27e-4,"h":1.83e-4},
{"d":64,"e":54,"y":1.5e-4,"l":1.25e-4,"h":1.8e-4},
{"d":64,"e":56,"y":1.48e-4,"l":1.23e-4,"h":1.78e-4},
{"d":64,"e":58,"y":1.45e-4,"l":1.2e-4,"h":1.75e-4},
{"d":64,"e":60,"y":1.43e-4,"l":1.18e-4,"h":1.72e-4},
{"d":64,"e":62,"y":1.4e-4,"l":1.16e-4,"h":1.69e-4},
{"d":64,"e":64,"y":1.35e-4,"l":1.12e-4,"h":1.63e-4},
{"d":64,"e":66,"y":1.33e-4,"l":1.1e-4,"h":1.6e-4},
{"d":64,"e":68,"y":1.3e-4,"l":1.08e-4,"h":1.57e-4},
{"d":64,"e":70,"y":1.28e-4,"l":1.06e-4,"h":1.55e-4},
{"d":64,"e":72,"y":1.26e-4,"l":1.04e-4,"h":1.53e-4},
{"d":64,"e":74,"y":1.24e-4,"l":1.02e-4,"h":1.5e-4},
{"d":64,"e":76,"y":1.22e-4,"l":1.0e-4,"h":1.48e-4},
{"d":64,"e":78,"y":1.2e-4,"l":9.8e-5,"h":1.46e-4},
{"d":64,"e":80,"y":1.18e-4,"l":9.6e-5,"h":1.44e-4},
{"d":64,"e":82,"y":1.16e-4,"l":9.4e-5,"h":1.42e-4},
{"d":64,"e":84,"y":1.14e-4,"l":9.2e-5,"h":1.4e-4},
{"d":64,"e":86,"y":1.12e-4,"l":9.0e-5,"h":1.38e-4},
{"d":64,"e":88,"y":1.1e-4,"l":8.8e-5,"h":1.36e-4},
{"d":64,"e":90,"y":1.08e-4,"l":8.6e-5,"h":1.34e-4},
{"d":64,"e":92,"y":1.06e-4,"l":8.4e-5,"h":1.32e-4},
{"d":64,"e":94,"y":1.04e-4,"l":8.2e-5,"h":1.3e-4},
{"d":64,"e":96,"y":1.02e-4,"l":8.0e-5,"h":1.28e-4},
{"d":64,"e":98,"y":1.0e-4,"l":7.8e-5,"h":1.26e-4},
{"d":64,"e":100,"y":1.05e-4,"l":8.0e-5,"h":1.35e-4},
{"d":128,"e":1,"y":5.0e-3,"l":4.6e-3,"h":5.4e-3},
{"d":128,"e":2,"y":3.1e-3,"l":2.7e-3,"h":3.5e-3},
{"d":128,"e":3,"y":1.8e-3,"l":1.55e-3,"h":2.1e-3},
{"d":128,"e":4,"y":1.25e-3,"l":1.05e-3,"h":1.5e-3},
{"d":128,"e":5,"y":9.5e-4,"l":8.0e-4,"h":1.15e-3},
{"d":128,"e":6,"y":8.0e-4,"l":6.8e-4,"h":9.5e-4},
{"d":128,"e":8,"y":6.5e-4,"l":5.5e-4,"h":8.0e-4},
{"d":128,"e":10,"y":5.6e-4,"l":4.7e-4,"h":6.8e-4},
{"d":128,"e":12,"y":5.0e-4,"l":4.2e-4,"h":6.2e-4},
{"d":128,"e":14,"y":4.5e-4,"l":3.8e-4,"h":5.6e-4},
{"d":128,"e":16,"y":4.2e-4,"l":3.5e-4,"h":5.3e-4},
{"d":128,"e":18,"y":4.5e-4,"l":3.5e-4,"h":7.0e-4},
{"d":128,"e":19,"y":1.0e-3,"l":4.0e-4,"h":3.0e-3},
{"d":128,"e":20,"y":3.1e-3,"l":6.0e-4,"h":9.1e-3},
{"d":128,"e":21,"y":8.0e-4,"l":3.5e-4,"h":2.0e-3},
{"d":128,"e":22,"y":3.6e-4,"l":3.0e-4,"h":4.6e-4},
{"d":128,"e":24,"y":3.4e-4,"l":2.85e-4,"h":4.4e-4},
{"d":128,"e":26,"y":3.2e-4,"l":2.7e-4,"h":4.2e-4},
{"d":128,"e":28,"y":3.0e-4,"l":2.5e-4,"h":3.9e-4},
{"d":128,"e":30,"y":2.9e-4,"l":2.4e-4,"h":3.8e-4},
{"d":128,"e":32,"y":2.75e-4,"l":2.3e-4,"h":3.6e-4},
{"d":128,"e":34,"y":2.65e-4,"l":2.2e-4,"h":3.5e-4},
{"d":128,"e":36,"y":2.55e-4,"l":2.1e-4,"h":3.4e-4},
{"d":128,"e":37,"y":6.0e-4,"l":2.5e-4,"h":1.5e-3},
{"d":128,"e":38,"y":3.5e-3,"l":6.0e-4,"h":3.7e-3},
{"d":128,"e":39,"y":6.0e-4,"l":2.5e-4,"h":1.2e-3},
{"d":128,"e":40,"y":2.5e-4,"l":2.05e-4,"h":3.3e-4},
{"d":128,"e":42,"y":2.45e-4,"l":2.0e-4,"h":3.3e-4},
{"d":128,"e":44,"y":2.4e-4,"l":1.95e-4,"h":3.3e-4},
{"d":128,"e":46,"y":2.35e-4,"l":1.9e-4,"h":3.3e-4},
{"d":128,"e":48,"y":2.3e-4,"l":1.85e-4,"h":3.5e-4},
{"d":128,"e":49,"y":2.4e-4,"l":1.9e-4,"h":4.0e-4},
{"d":128,"e":50,"y":1.6e-3,"l":4.0e-4,"h":2.8e-3},
{"d":128,"e":51,"y":8.5e-4,"l":3.5e-4,"h":1.6e-3},
{"d":128,"e":52,"y":5.0e-4,"l":3.0e-4,"h":1.1e-3},
{"d":128,"e":53,"y":4.0e-4,"l":2.6e-4,"h":8.5e-4},
{"d":128,"e":54,"y":3.3e-4,"l":2.4e-4,"h":7.5e-4},
{"d":128,"e":56,"y":2.9e-4,"l":2.2e-4,"h":6.0e-4},
{"d":128,"e":58,"y":2.6e-4,"l":2.0e-4,"h":5.0e-4},
{"d":128,"e":60,"y":2.45e-4,"l":1.9e-4,"h":4.6e-4},
{"d":128,"e":62,"y":2.5e-4,"l":1.9e-4,"h":4.5e-4},
{"d":128,"e":64,"y":2.4e-4,"l":1.85e-4,"h":4.2e-4},
{"d":128,"e":66,"y":2.35e-4,"l":1.8e-4,"h":4.0e-4},
{"d":128,"e":68,"y":2.3e-4,"l":1.75e-4,"h":3.9e-4},
{"d":128,"e":70,"y":2.4e-4,"l":1.8e-4,"h":4.0e-4},
{"d":128,"e":72,"y":2.3e-4,"l":1.75e-4,"h":3.8e-4},
{"d":128,"e":74,"y":2.25e-4,"l":1.7e-4,"h":3.7e-4},
{"d":128,"e":76,"y":2.1e-4,"l":1.6e-4,"h":3.5e-4},
{"d":128,"e":78,"y":2.2e-4,"l":1.65e-4,"h":3.6e-4},
{"d":128,"e":80,"y":2.1e-4,"l":1.6e-4,"h":3.5e-4},
{"d":128,"e":82,"y":2.15e-4,"l":1.6e-4,"h":3.5e-4},
{"d":128,"e":84,"y":2.2e-4,"l":1.65e-4,"h":3.5e-4},
{"d":128,"e":86,"y":2.25e-4,"l":1.7e-4,"h":3.4e-4},
{"d":128,"e":88,"y":2.3e-4,"l":1.7e-4,"h":3.5e-4},
{"d":128,"e":90,"y":1.8e-4,"l":1.4e-4,"h":3.0e-4},
{"d":128,"e":92,"y":1.7e-4,"l":1.3e-4,"h":2.8e-4},
{"d":128,"e":94,"y":1.65e-4,"l":1.25e-4,"h":2.6e-4},
{"d":128,"e":96,"y":1.6e-4,"l":1.2e-4,"h":2.5e-4},
{"d":128,"e":98,"y":1.55e-4,"l":1.15e-4,"h":2.4e-4},
{"d":128,"e":100,"y":1.65e-4,"l":1.2e-4,"h":4.3e-4},
{"d":256,"e":1,"y":5.0e-3,"l":4.6e-3,"h":5.4e-3},
{"d":256,"e":2,"y":3.2e-3,"l":2.8e-3,"h":3.6e-3},
{"d":256,"e":3,"y":1.9e-3,"l":1.65e-3,"h":2.2e-3},
{"d":256,"e":4,"y":1.3e-3,"l":1.1e-3,"h":1.55e-3},
{"d":256,"e":5,"y":9.8e-4,"l":8.3e-4,"h":1.15e-3},
{"d":256,"e":6,"y":8.0e-4,"l":6.8e-4,"h":9.4e-4},
{"d":256,"e":8,"y":6.3e-4,"l":5.4e-4,"h":7.4e-4},
{"d":256,"e":10,"y":5.3e-4,"l":4.5e-4,"h":6.2e-4},
{"d":256,"e":12,"y":4.7e-4,"l":4.0e-4,"h":5.5e-4},
{"d":256,"e":14,"y":4.3e-4,"l":3.6e-4,"h":5.0e-4},
{"d":256,"e":16,"y":4.0e-4,"l":3.4e-4,"h":4.7e-4},
{"d":256,"e":18,"y":3.7e-4,"l":3.1e-4,"h":4.5e-4},
{"d":256,"e":19,"y":1.5e-3,"l":4.0e-4,"h":7.9e-3},
{"d":256,"e":20,"y":6.0e-4,"l":3.2e-4,"h":1.5e-3},
{"d":256,"e":21,"y":3.4e-4,"l":2.9e-4,"h":4.0e-4},
{"d":256,"e":22,"y":3.3e-4,"l":2.8e-4,"h":3.9e-4},
{"d":256,"e":24,"y":3.1e-4,"l":2.65e-4,"h":3.7e-4},
{"d":256,"e":26,"y":3.0e-4,"l":2.55e-4,"h":3.6e-4},
{"d":256,"e":28,"y":3.2e-4,"l":2.6e-4,"h":4.2e-4},
{"d":256,"e":29,"y":6.5e-4,"l":3.0e-4,"h":1.5e-3},
{"d":256,"e":30,"y":3.0e-4,"l":2.4e-4,"h":4.0e-4},
{"d":256,"e":32,"y":2.6e-4,"l":2.2e-4,"h":3.1e-4},
{"d":256,"e":34,"y":2.5e-4,"l":2.1e-4,"h":3.0e-4},
{"d":256,"e":36,"y":2.4e-4,"l":2.03e-4,"h":2.9e-4},
{"d":256,"e":38,"y":2.3e-4,"l":1.95e-4,"h":2.8e-4},
{"d":256,"e":40,"y":2.25e-4,"l":1.9e-4,"h":2.7e-4},
{"d":256,"e":42,"y":2.2e-4,"l":1.86e-4,"h":2.65e-4},
{"d":256,"e":44,"y":2.15e-4,"l":1.82e-4,"h":2.6e-4},
{"d":256,"e":45,"y":3.2e-4,"l":2.0e-4,"h":4.5e-4},
{"d":256,"e":46,"y":2.1e-4,"l":1.78e-4,"h":2.55e-4},
{"d":256,"e":48,"y":2.05e-4,"l":1.73e-4,"h":2.5e-4},
{"d":256,"e":50,"y":2.0e-4,"l":1.7e-4,"h":2.45e-4},
{"d":256,"e":52,"y":1.95e-4,"l":1.65e-4,"h":2.4e-4},
{"d":256,"e":54,"y":1.9e-4,"l":1.6e-4,"h":2.33e-4},
{"d":256,"e":56,"y":1.88e-4,"l":1.58e-4,"h":2.3e-4},
{"d":256,"e":58,"y":1.85e-4,"l":1.56e-4,"h":2.27e-4},
{"d":256,"e":60,"y":1.8e-4,"l":1.52e-4,"h":2.2e-4},
{"d":256,"e":62,"y":1.75e-4,"l":1.48e-4,"h":2.15e-4},
{"d":256,"e":64,"y":1.72e-4,"l":1.45e-4,"h":2.12e-4},
{"d":256,"e":66,"y":1.7e-4,"l":1.43e-4,"h":2.1e-4},
{"d":256,"e":68,"y":1.65e-4,"l":1.39e-4,"h":2.03e-4},
{"d":256,"e":70,"y":1.62e-4,"l":1.37e-4,"h":2.0e-4},
{"d":256,"e":72,"y":1.6e-4,"l":1.35e-4,"h":1.97e-4},
{"d":256,"e":74,"y":1.58e-4,"l":1.33e-4,"h":1.95e-4},
{"d":256,"e":76,"y":1.55e-4,"l":1.3e-4,"h":1.92e-4},
{"d":256,"e":78,"y":1.52e-4,"l":1.28e-4,"h":1.88e-4},
{"d":256,"e":80,"y":1.5e-4,"l":1.26e-4,"h":1.86e-4},
{"d":256,"e":82,"y":1.48e-4,"l":1.24e-4,"h":1.84e-4},
{"d":256,"e":84,"y":1.45e-4,"l":1.22e-4,"h":1.8e-4},
{"d":256,"e":86,"y":1.43e-4,"l":1.2e-4,"h":1.78e-4},
{"d":256,"e":88,"y":1.42e-4,"l":1.19e-4,"h":1.77e-4},
{"d":256,"e":90,"y":1.4e-4,"l":1.17e-4,"h":1.75e-4},
{"d":256,"e":92,"y":1.38e-4,"l":1.15e-4,"h":1.73e-4},
{"d":256,"e":94,"y":1.35e-4,"l":1.12e-4,"h":1.7e-4},
{"d":256,"e":96,"y":1.32e-4,"l":1.1e-4,"h":1.67e-4},
{"d":256,"e":98,"y":1.3e-4,"l":1.08e-4,"h":1.65e-4},
{"d":256,"e":100,"y":1.3e-4,"l":1.08e-4,"h":1.65e-4}
]
},
"hconcat":[
{
 "title":"Training",
 "width":399,"height":437,
 "data":{"name":"train"},
 "encoding":{"x":{"field":"e","type":"quantitative","scale":{"domain":[-3.95,104.95],"nice":false,"zero":false},"axis":{"values":[0,20,40,60,80,100],"title":"Epochs","tickSize":6,"labelPadding":5,"titlePadding":4}}},
 "layer":[
  {"mark":{"type":"area","fillOpacity":0.5,"clip":true},
   "encoding":{
    "y":{"field":"l","type":"quantitative","title":"Loss","scale":{"type":"log","domain":[5.28e-5,0.012],"nice":false},
     "axis":{"values":[0.01,0.001,0.0001,0.00006,0.00007,0.00008,0.00009,0.0002,0.0003,0.0004,0.0005,0.0006,0.0007,0.0008,0.0009,0.002,0.003,0.004,0.005,0.006,0.007,0.008,0.009],
      "labelExpr":"datum.value==0.01?'10⁻²':datum.value==0.001?'10⁻³':datum.value==0.0001?'10⁻⁴':''",
      "tickSize":{"condition":{"test":"datum.value==0.01||datum.value==0.001||datum.value==0.0001","value":6},"value":3.5},
      "labelPadding":7,"titlePadding":12}},
    "y2":{"field":"h"},
    "fill":{"field":"d","type":"nominal","scale":{"domain":[2,4,8,16,32,64,128,256],"range":["green","blue","red","purple","black","yellow","orange","pink"]},"legend":null}}},
  {"mark":{"type":"line","strokeWidth":2,"clip":true},
   "encoding":{
    "y":{"field":"y","type":"quantitative","title":"Loss"},
    "stroke":{"field":"d","type":"nominal","scale":{"domain":[2,4,8,16,32,64,128,256],"range":["green","blue","red","purple","black","yellow","orange","pink"]},
     "legend":{"title":null,"labelExpr":"'Latent dim: ' + datum.label"}}}}
 ]
},
{
 "title":"Validation",
 "width":399,"height":437,
 "data":{"name":"val"},
 "encoding":{"x":{"field":"e","type":"quantitative","scale":{"domain":[-3.95,104.95],"nice":false,"zero":false},"axis":{"values":[0,20,40,60,80,100],"title":"Epochs","tickSize":6,"labelPadding":5,"titlePadding":4}}},
 "layer":[
  {"mark":{"type":"area","fillOpacity":0.5,"clip":true},
   "encoding":{
    "y":{"field":"l","type":"quantitative","title":"Loss","scale":{"type":"log","domain":[5.28e-5,0.012],"nice":false},
     "axis":{"values":[0.01,0.001,0.0001,0.00006,0.00007,0.00008,0.00009,0.0002,0.0003,0.0004,0.0005,0.0006,0.0007,0.0008,0.0009,0.002,0.003,0.004,0.005,0.006,0.007,0.008,0.009],
      "labelExpr":"datum.value==0.01?'10⁻²':datum.value==0.001?'10⁻³':datum.value==0.0001?'10⁻⁴':''",
      "tickSize":{"condition":{"test":"datum.value==0.01||datum.value==0.001||datum.value==0.0001","value":6},"value":3.5},
      "labelPadding":7,"titlePadding":12}},
    "y2":{"field":"h"},
    "fill":{"field":"d","type":"nominal","scale":{"domain":[2,4,8,16,32,64,128,256],"range":["green","blue","red","purple","black","yellow","orange","pink"]},"legend":null}}},
  {"mark":{"type":"line","strokeWidth":2,"strokeDash":[8,3.5],"clip":true},
   "encoding":{
    "y":{"field":"y","type":"quantitative","title":"Loss"},
    "stroke":{"field":"d","type":"nominal","scale":{"domain":[2,4,8,16,32,64,128,256],"range":["green","blue","red","purple","black","yellow","orange","pink"]},
     "legend":{"title":null,"symbolDash":[8,3.5],"labelExpr":"'Latent dim: ' + datum.label"}}}}
 ]
}
],
"resolve":{"scale":{"stroke":"shared","fill":"shared"},"legend":{"stroke":"independent"}}
}
